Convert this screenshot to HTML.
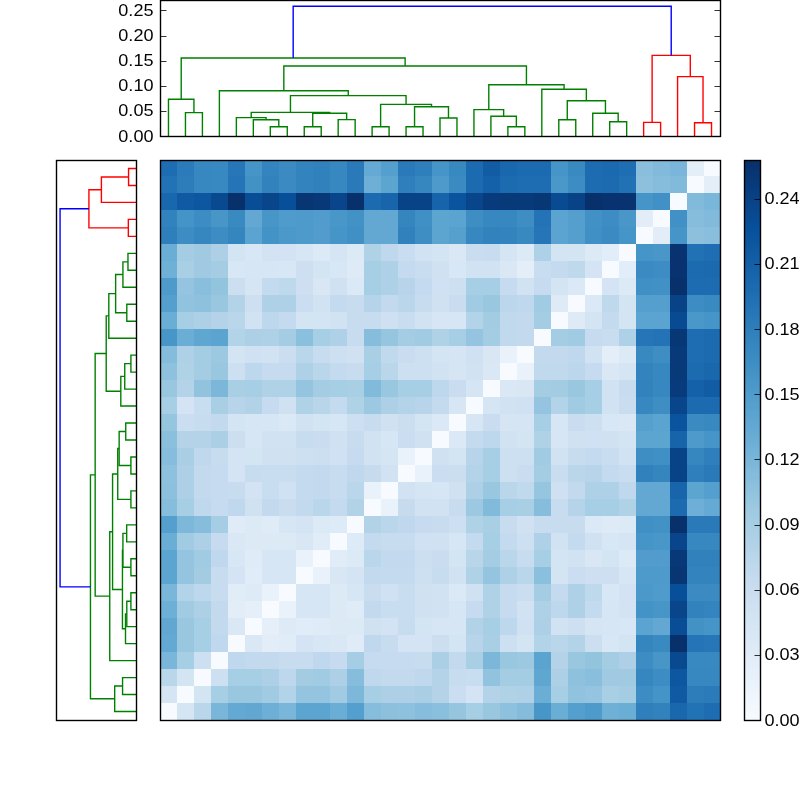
<!DOCTYPE html><html><head><meta charset="utf-8"><title>cluster heatmap</title>
<style>html,body{margin:0;padding:0;background:#fff;}body{width:800px;height:800px;overflow:hidden;font-family:"Liberation Sans",sans-serif;}svg{display:block}text{font-family:"Liberation Sans",sans-serif;fill:#000}</style></head><body>
<svg width="800" height="800" viewBox="0 0 800 800">
<rect x="0" y="0" width="800" height="800" fill="#ffffff"/>
<g shape-rendering="crispEdges">
<rect x="160" y="703" width="17" height="17" fill="#f7fbff"/>
<rect x="177" y="703" width="17" height="17" fill="#d5e5f4"/>
<rect x="194" y="703" width="17" height="17" fill="#bad6eb"/>
<rect x="211" y="703" width="17" height="17" fill="#7ab6d9"/>
<rect x="228" y="703" width="17" height="17" fill="#64a9d3"/>
<rect x="245" y="703" width="17" height="17" fill="#61a7d2"/>
<rect x="262" y="703" width="17" height="17" fill="#6dafd7"/>
<rect x="279" y="703" width="17" height="17" fill="#7ab6d9"/>
<rect x="296" y="703" width="34" height="17" fill="#5da5d1"/>
<rect x="330" y="703" width="17" height="17" fill="#6aaed6"/>
<rect x="347" y="703" width="17" height="17" fill="#549fcd"/>
<rect x="364" y="703" width="17" height="17" fill="#87bddc"/>
<rect x="381" y="703" width="17" height="17" fill="#8cc0dd"/>
<rect x="398" y="703" width="17" height="17" fill="#8dc1dd"/>
<rect x="415" y="703" width="17" height="17" fill="#87bddc"/>
<rect x="432" y="703" width="17" height="17" fill="#8abfdd"/>
<rect x="449" y="703" width="17" height="17" fill="#95c5df"/>
<rect x="466" y="703" width="17" height="17" fill="#a6cee4"/>
<rect x="483" y="703" width="17" height="17" fill="#99c7e0"/>
<rect x="500" y="703" width="17" height="17" fill="#8dc1dd"/>
<rect x="517" y="703" width="17" height="17" fill="#85bcdc"/>
<rect x="534" y="703" width="17" height="17" fill="#4896c8"/>
<rect x="551" y="703" width="17" height="17" fill="#6aaed6"/>
<rect x="568" y="703" width="17" height="17" fill="#549fcd"/>
<rect x="585" y="703" width="17" height="17" fill="#4e9acb"/>
<rect x="602" y="703" width="17" height="17" fill="#6fb0d7"/>
<rect x="619" y="703" width="17" height="17" fill="#6aaed6"/>
<rect x="636" y="703" width="17" height="17" fill="#2f7fbc"/>
<rect x="653" y="703" width="17" height="17" fill="#3282be"/>
<rect x="670" y="703" width="17" height="17" fill="#1967ad"/>
<rect x="687" y="703" width="17" height="17" fill="#2272b6"/>
<rect x="704" y="703" width="17" height="17" fill="#1e6db2"/>
<rect x="160" y="686" width="17" height="17" fill="#d5e5f4"/>
<rect x="177" y="686" width="17" height="17" fill="#f7fbff"/>
<rect x="194" y="686" width="17" height="17" fill="#d3e4f3"/>
<rect x="211" y="686" width="17" height="17" fill="#a6cee4"/>
<rect x="228" y="686" width="34" height="17" fill="#99c7e0"/>
<rect x="262" y="686" width="17" height="17" fill="#a0cbe2"/>
<rect x="279" y="686" width="17" height="17" fill="#b3d3e8"/>
<rect x="296" y="686" width="34" height="17" fill="#94c4df"/>
<rect x="330" y="686" width="17" height="17" fill="#a0cbe2"/>
<rect x="347" y="686" width="17" height="17" fill="#7db8da"/>
<rect x="364" y="686" width="17" height="17" fill="#a6cee4"/>
<rect x="381" y="686" width="34" height="17" fill="#add0e6"/>
<rect x="415" y="686" width="17" height="17" fill="#aacfe5"/>
<rect x="432" y="686" width="17" height="17" fill="#b4d3e9"/>
<rect x="449" y="686" width="17" height="17" fill="#cbdef1"/>
<rect x="466" y="686" width="17" height="17" fill="#d4e4f4"/>
<rect x="483" y="686" width="17" height="17" fill="#b4d3e9"/>
<rect x="500" y="686" width="17" height="17" fill="#b0d2e7"/>
<rect x="517" y="686" width="17" height="17" fill="#afd1e7"/>
<rect x="534" y="686" width="17" height="17" fill="#6aaed6"/>
<rect x="551" y="686" width="17" height="17" fill="#a6cee4"/>
<rect x="568" y="686" width="17" height="17" fill="#91c3de"/>
<rect x="585" y="686" width="17" height="17" fill="#94c4df"/>
<rect x="602" y="686" width="17" height="17" fill="#a9cfe5"/>
<rect x="619" y="686" width="17" height="17" fill="#a4cce3"/>
<rect x="636" y="686" width="17" height="17" fill="#3d8dc4"/>
<rect x="653" y="686" width="17" height="17" fill="#4594c7"/>
<rect x="670" y="686" width="17" height="17" fill="#0f5aa3"/>
<rect x="687" y="686" width="17" height="17" fill="#2d7dbb"/>
<rect x="704" y="686" width="17" height="17" fill="#2b7bba"/>
<rect x="160" y="669" width="17" height="17" fill="#bad6eb"/>
<rect x="177" y="669" width="17" height="17" fill="#d3e4f3"/>
<rect x="194" y="669" width="17" height="17" fill="#f7fbff"/>
<rect x="211" y="669" width="17" height="17" fill="#cde0f1"/>
<rect x="228" y="669" width="34" height="17" fill="#a6cee4"/>
<rect x="262" y="669" width="17" height="17" fill="#add0e6"/>
<rect x="279" y="669" width="17" height="17" fill="#bdd7ec"/>
<rect x="296" y="669" width="17" height="17" fill="#a3cce3"/>
<rect x="313" y="669" width="17" height="17" fill="#a0cbe2"/>
<rect x="330" y="669" width="17" height="17" fill="#add0e6"/>
<rect x="347" y="669" width="17" height="17" fill="#87bddc"/>
<rect x="364" y="669" width="17" height="17" fill="#bfd8ed"/>
<rect x="381" y="669" width="34" height="17" fill="#c2d9ee"/>
<rect x="415" y="669" width="17" height="17" fill="#bfd8ed"/>
<rect x="432" y="669" width="17" height="17" fill="#b4d3e9"/>
<rect x="449" y="669" width="17" height="17" fill="#c8dcf0"/>
<rect x="466" y="669" width="17" height="17" fill="#c9ddf0"/>
<rect x="483" y="669" width="17" height="17" fill="#91c3de"/>
<rect x="500" y="669" width="34" height="17" fill="#a4cce3"/>
<rect x="534" y="669" width="17" height="17" fill="#5fa6d1"/>
<rect x="551" y="669" width="17" height="17" fill="#add0e6"/>
<rect x="568" y="669" width="17" height="17" fill="#8dc1dd"/>
<rect x="585" y="669" width="17" height="17" fill="#89bedc"/>
<rect x="602" y="669" width="34" height="17" fill="#9fcae1"/>
<rect x="636" y="669" width="17" height="17" fill="#3686c0"/>
<rect x="653" y="669" width="17" height="17" fill="#3d8dc4"/>
<rect x="670" y="669" width="17" height="17" fill="#0d57a1"/>
<rect x="687" y="669" width="34" height="17" fill="#3787c0"/>
<rect x="160" y="652" width="17" height="17" fill="#7ab6d9"/>
<rect x="177" y="652" width="17" height="17" fill="#a6cee4"/>
<rect x="194" y="652" width="17" height="17" fill="#cde0f1"/>
<rect x="211" y="652" width="17" height="17" fill="#f7fbff"/>
<rect x="228" y="652" width="17" height="17" fill="#bfd8ed"/>
<rect x="245" y="652" width="34" height="17" fill="#c2d9ee"/>
<rect x="279" y="652" width="34" height="17" fill="#c8dcf0"/>
<rect x="313" y="652" width="17" height="17" fill="#bfd8ed"/>
<rect x="330" y="652" width="17" height="17" fill="#c6dbef"/>
<rect x="347" y="652" width="17" height="17" fill="#a5cde3"/>
<rect x="364" y="652" width="51" height="17" fill="#c6dbef"/>
<rect x="415" y="652" width="17" height="17" fill="#c8dcf0"/>
<rect x="432" y="652" width="17" height="17" fill="#abd0e6"/>
<rect x="449" y="652" width="17" height="17" fill="#c2d9ee"/>
<rect x="466" y="652" width="17" height="17" fill="#a9cfe5"/>
<rect x="483" y="652" width="17" height="17" fill="#7cb7da"/>
<rect x="500" y="652" width="17" height="17" fill="#99c7e0"/>
<rect x="517" y="652" width="17" height="17" fill="#9cc9e1"/>
<rect x="534" y="652" width="17" height="17" fill="#5ca4d0"/>
<rect x="551" y="652" width="17" height="17" fill="#b4d3e9"/>
<rect x="568" y="652" width="17" height="17" fill="#99c7e0"/>
<rect x="585" y="652" width="17" height="17" fill="#92c4de"/>
<rect x="602" y="652" width="17" height="17" fill="#a4cce3"/>
<rect x="619" y="652" width="17" height="17" fill="#add0e6"/>
<rect x="636" y="652" width="17" height="17" fill="#3d8dc4"/>
<rect x="653" y="652" width="17" height="17" fill="#4896c8"/>
<rect x="670" y="652" width="17" height="17" fill="#084990"/>
<rect x="687" y="652" width="34" height="17" fill="#3888c1"/>
<rect x="160" y="635" width="17" height="17" fill="#64a9d3"/>
<rect x="177" y="635" width="17" height="17" fill="#99c7e0"/>
<rect x="194" y="635" width="17" height="17" fill="#a6cee4"/>
<rect x="211" y="635" width="17" height="17" fill="#bfd8ed"/>
<rect x="228" y="635" width="17" height="17" fill="#f7fbff"/>
<rect x="245" y="635" width="17" height="17" fill="#dae8f6"/>
<rect x="262" y="635" width="17" height="17" fill="#e2edf8"/>
<rect x="279" y="635" width="17" height="17" fill="#e0ecf8"/>
<rect x="296" y="635" width="17" height="17" fill="#d4e4f4"/>
<rect x="313" y="635" width="17" height="17" fill="#d8e7f5"/>
<rect x="330" y="635" width="17" height="17" fill="#dae8f6"/>
<rect x="347" y="635" width="17" height="17" fill="#dfebf7"/>
<rect x="364" y="635" width="17" height="17" fill="#bfd8ed"/>
<rect x="381" y="635" width="17" height="17" fill="#c7dcef"/>
<rect x="398" y="635" width="34" height="17" fill="#d4e4f4"/>
<rect x="432" y="635" width="17" height="17" fill="#ccdff1"/>
<rect x="449" y="635" width="17" height="17" fill="#d3e4f3"/>
<rect x="466" y="635" width="17" height="17" fill="#b7d4ea"/>
<rect x="483" y="635" width="17" height="17" fill="#a9cfe5"/>
<rect x="500" y="635" width="17" height="17" fill="#cde0f1"/>
<rect x="517" y="635" width="17" height="17" fill="#d3e4f3"/>
<rect x="534" y="635" width="17" height="17" fill="#b3d3e8"/>
<rect x="551" y="635" width="17" height="17" fill="#b9d6ea"/>
<rect x="568" y="635" width="17" height="17" fill="#b3d3e8"/>
<rect x="585" y="635" width="17" height="17" fill="#ccdff1"/>
<rect x="602" y="635" width="17" height="17" fill="#d8e7f5"/>
<rect x="619" y="635" width="17" height="17" fill="#d3e4f3"/>
<rect x="636" y="635" width="17" height="17" fill="#3585bf"/>
<rect x="653" y="635" width="17" height="17" fill="#3a8ac2"/>
<rect x="670" y="635" width="17" height="17" fill="#08306b"/>
<rect x="687" y="635" width="17" height="17" fill="#2474b7"/>
<rect x="704" y="635" width="17" height="17" fill="#2676b8"/>
<rect x="160" y="618" width="17" height="17" fill="#61a7d2"/>
<rect x="177" y="618" width="17" height="17" fill="#99c7e0"/>
<rect x="194" y="618" width="17" height="17" fill="#a6cee4"/>
<rect x="211" y="618" width="17" height="17" fill="#c2d9ee"/>
<rect x="228" y="618" width="17" height="17" fill="#dae8f6"/>
<rect x="245" y="618" width="17" height="17" fill="#f7fbff"/>
<rect x="262" y="618" width="17" height="17" fill="#e4eff9"/>
<rect x="279" y="618" width="17" height="17" fill="#deebf7"/>
<rect x="296" y="618" width="17" height="17" fill="#e0ecf8"/>
<rect x="313" y="618" width="17" height="17" fill="#dfebf7"/>
<rect x="330" y="618" width="34" height="17" fill="#dceaf6"/>
<rect x="364" y="618" width="17" height="17" fill="#d0e1f2"/>
<rect x="381" y="618" width="17" height="17" fill="#d3e3f3"/>
<rect x="398" y="618" width="17" height="17" fill="#c7dcef"/>
<rect x="415" y="618" width="17" height="17" fill="#d3e4f3"/>
<rect x="432" y="618" width="34" height="17" fill="#d6e6f4"/>
<rect x="466" y="618" width="17" height="17" fill="#b2d2e8"/>
<rect x="483" y="618" width="17" height="17" fill="#a6cee4"/>
<rect x="500" y="618" width="17" height="17" fill="#bdd7ec"/>
<rect x="517" y="618" width="17" height="17" fill="#cfe1f2"/>
<rect x="534" y="618" width="17" height="17" fill="#add0e6"/>
<rect x="551" y="618" width="17" height="17" fill="#d1e2f3"/>
<rect x="568" y="618" width="17" height="17" fill="#cddff1"/>
<rect x="585" y="618" width="17" height="17" fill="#d5e5f4"/>
<rect x="602" y="618" width="17" height="17" fill="#d7e6f5"/>
<rect x="619" y="618" width="17" height="17" fill="#d8e7f5"/>
<rect x="636" y="618" width="17" height="17" fill="#5ba3d0"/>
<rect x="653" y="618" width="17" height="17" fill="#63a8d3"/>
<rect x="670" y="618" width="17" height="17" fill="#084d96"/>
<rect x="687" y="618" width="17" height="17" fill="#4292c6"/>
<rect x="704" y="618" width="17" height="17" fill="#4695c8"/>
<rect x="160" y="601" width="17" height="17" fill="#6dafd7"/>
<rect x="177" y="601" width="17" height="17" fill="#a0cbe2"/>
<rect x="194" y="601" width="17" height="17" fill="#add0e6"/>
<rect x="211" y="601" width="17" height="17" fill="#c2d9ee"/>
<rect x="228" y="601" width="17" height="17" fill="#e2edf8"/>
<rect x="245" y="601" width="17" height="17" fill="#e4eff9"/>
<rect x="262" y="601" width="17" height="17" fill="#f7fbff"/>
<rect x="279" y="601" width="17" height="17" fill="#e9f2fa"/>
<rect x="296" y="601" width="34" height="17" fill="#d6e6f4"/>
<rect x="330" y="601" width="17" height="17" fill="#dceaf6"/>
<rect x="347" y="601" width="17" height="17" fill="#dfebf7"/>
<rect x="364" y="601" width="17" height="17" fill="#c2d9ee"/>
<rect x="381" y="601" width="34" height="17" fill="#c9ddf0"/>
<rect x="415" y="601" width="17" height="17" fill="#d0e1f2"/>
<rect x="432" y="601" width="17" height="17" fill="#d1e2f3"/>
<rect x="449" y="601" width="17" height="17" fill="#d6e6f4"/>
<rect x="466" y="601" width="17" height="17" fill="#c6dbef"/>
<rect x="483" y="601" width="17" height="17" fill="#b0d2e7"/>
<rect x="500" y="601" width="17" height="17" fill="#c6dbef"/>
<rect x="517" y="601" width="17" height="17" fill="#d1e2f3"/>
<rect x="534" y="601" width="17" height="17" fill="#aed1e7"/>
<rect x="551" y="601" width="17" height="17" fill="#bdd7ec"/>
<rect x="568" y="601" width="17" height="17" fill="#afd1e7"/>
<rect x="585" y="601" width="17" height="17" fill="#c4daee"/>
<rect x="602" y="601" width="17" height="17" fill="#d7e6f5"/>
<rect x="619" y="601" width="17" height="17" fill="#d3e3f3"/>
<rect x="636" y="601" width="17" height="17" fill="#4493c7"/>
<rect x="653" y="601" width="17" height="17" fill="#4896c8"/>
<rect x="670" y="601" width="17" height="17" fill="#08458a"/>
<rect x="687" y="601" width="17" height="17" fill="#3282be"/>
<rect x="704" y="601" width="17" height="17" fill="#3484bf"/>
<rect x="160" y="584" width="17" height="17" fill="#7ab6d9"/>
<rect x="177" y="584" width="17" height="17" fill="#b3d3e8"/>
<rect x="194" y="584" width="17" height="17" fill="#bdd7ec"/>
<rect x="211" y="584" width="17" height="17" fill="#c8dcf0"/>
<rect x="228" y="584" width="17" height="17" fill="#e0ecf8"/>
<rect x="245" y="584" width="17" height="17" fill="#deebf7"/>
<rect x="262" y="584" width="17" height="17" fill="#e9f2fa"/>
<rect x="279" y="584" width="17" height="17" fill="#f7fbff"/>
<rect x="296" y="584" width="34" height="17" fill="#d6e6f4"/>
<rect x="330" y="584" width="17" height="17" fill="#dceaf6"/>
<rect x="347" y="584" width="17" height="17" fill="#d6e6f4"/>
<rect x="364" y="584" width="17" height="17" fill="#caddf0"/>
<rect x="381" y="584" width="17" height="17" fill="#cfe1f2"/>
<rect x="398" y="584" width="17" height="17" fill="#c9ddf0"/>
<rect x="415" y="584" width="17" height="17" fill="#d0e1f2"/>
<rect x="432" y="584" width="17" height="17" fill="#d1e2f3"/>
<rect x="449" y="584" width="17" height="17" fill="#dbe9f6"/>
<rect x="466" y="584" width="17" height="17" fill="#d0e1f2"/>
<rect x="483" y="584" width="17" height="17" fill="#b0d2e7"/>
<rect x="500" y="584" width="17" height="17" fill="#c6dbef"/>
<rect x="517" y="584" width="17" height="17" fill="#cbdef1"/>
<rect x="534" y="584" width="17" height="17" fill="#a4cce3"/>
<rect x="551" y="584" width="17" height="17" fill="#c4daee"/>
<rect x="568" y="584" width="17" height="17" fill="#afd1e7"/>
<rect x="585" y="584" width="17" height="17" fill="#bed8ec"/>
<rect x="602" y="584" width="17" height="17" fill="#d8e7f5"/>
<rect x="619" y="584" width="17" height="17" fill="#d3e3f3"/>
<rect x="636" y="584" width="17" height="17" fill="#4b98ca"/>
<rect x="653" y="584" width="17" height="17" fill="#4f9bcb"/>
<rect x="670" y="584" width="17" height="17" fill="#084f99"/>
<rect x="687" y="584" width="34" height="17" fill="#3b8bc2"/>
<rect x="160" y="567" width="17" height="17" fill="#5da5d1"/>
<rect x="177" y="567" width="17" height="17" fill="#94c4df"/>
<rect x="194" y="567" width="17" height="17" fill="#a3cce3"/>
<rect x="211" y="567" width="17" height="17" fill="#c8dcf0"/>
<rect x="228" y="567" width="17" height="17" fill="#d4e4f4"/>
<rect x="245" y="567" width="17" height="17" fill="#e0ecf8"/>
<rect x="262" y="567" width="34" height="17" fill="#d6e6f4"/>
<rect x="296" y="567" width="17" height="17" fill="#f7fbff"/>
<rect x="313" y="567" width="17" height="17" fill="#e9f2fa"/>
<rect x="330" y="567" width="17" height="17" fill="#d9e7f5"/>
<rect x="347" y="567" width="17" height="17" fill="#d4e4f4"/>
<rect x="364" y="567" width="17" height="17" fill="#c2d9ee"/>
<rect x="381" y="567" width="34" height="17" fill="#c4daee"/>
<rect x="415" y="567" width="17" height="17" fill="#cde0f1"/>
<rect x="432" y="567" width="17" height="17" fill="#c7dcef"/>
<rect x="449" y="567" width="17" height="17" fill="#d1e2f3"/>
<rect x="466" y="567" width="17" height="17" fill="#b0d2e7"/>
<rect x="483" y="567" width="17" height="17" fill="#94c4df"/>
<rect x="500" y="567" width="17" height="17" fill="#afd1e7"/>
<rect x="517" y="567" width="17" height="17" fill="#bad6eb"/>
<rect x="534" y="567" width="17" height="17" fill="#8abfdd"/>
<rect x="551" y="567" width="17" height="17" fill="#d3e4f3"/>
<rect x="568" y="567" width="17" height="17" fill="#cbdef1"/>
<rect x="585" y="567" width="34" height="17" fill="#cddff1"/>
<rect x="619" y="567" width="17" height="17" fill="#d6e6f4"/>
<rect x="636" y="567" width="34" height="17" fill="#4e9acb"/>
<rect x="670" y="567" width="17" height="17" fill="#083674"/>
<rect x="687" y="567" width="34" height="17" fill="#3383be"/>
<rect x="160" y="550" width="17" height="17" fill="#5da5d1"/>
<rect x="177" y="550" width="17" height="17" fill="#94c4df"/>
<rect x="194" y="550" width="17" height="17" fill="#a0cbe2"/>
<rect x="211" y="550" width="17" height="17" fill="#bfd8ed"/>
<rect x="228" y="550" width="17" height="17" fill="#d8e7f5"/>
<rect x="245" y="550" width="17" height="17" fill="#dfebf7"/>
<rect x="262" y="550" width="34" height="17" fill="#d6e6f4"/>
<rect x="296" y="550" width="17" height="17" fill="#e9f2fa"/>
<rect x="313" y="550" width="17" height="17" fill="#f7fbff"/>
<rect x="330" y="550" width="17" height="17" fill="#e0ecf8"/>
<rect x="347" y="550" width="17" height="17" fill="#dceaf6"/>
<rect x="364" y="550" width="17" height="17" fill="#b9d6ea"/>
<rect x="381" y="550" width="34" height="17" fill="#c2d9ee"/>
<rect x="415" y="550" width="17" height="17" fill="#ccdff1"/>
<rect x="432" y="550" width="17" height="17" fill="#caddf0"/>
<rect x="449" y="550" width="17" height="17" fill="#d3e4f3"/>
<rect x="466" y="550" width="17" height="17" fill="#b8d5ea"/>
<rect x="483" y="550" width="17" height="17" fill="#a4cce3"/>
<rect x="500" y="550" width="17" height="17" fill="#bad6eb"/>
<rect x="517" y="550" width="17" height="17" fill="#c7dcef"/>
<rect x="534" y="550" width="17" height="17" fill="#a6cee4"/>
<rect x="551" y="550" width="17" height="17" fill="#d3e4f3"/>
<rect x="568" y="550" width="17" height="17" fill="#d1e2f3"/>
<rect x="585" y="550" width="17" height="17" fill="#d9e7f5"/>
<rect x="602" y="550" width="17" height="17" fill="#d3e4f3"/>
<rect x="619" y="550" width="17" height="17" fill="#dce9f6"/>
<rect x="636" y="550" width="34" height="17" fill="#519ccc"/>
<rect x="670" y="550" width="17" height="17" fill="#083877"/>
<rect x="687" y="550" width="34" height="17" fill="#3181bd"/>
<rect x="160" y="533" width="17" height="17" fill="#6aaed6"/>
<rect x="177" y="533" width="17" height="17" fill="#a0cbe2"/>
<rect x="194" y="533" width="17" height="17" fill="#add0e6"/>
<rect x="211" y="533" width="17" height="17" fill="#c6dbef"/>
<rect x="228" y="533" width="17" height="17" fill="#dae8f6"/>
<rect x="245" y="533" width="51" height="17" fill="#dceaf6"/>
<rect x="296" y="533" width="17" height="17" fill="#d9e7f5"/>
<rect x="313" y="533" width="17" height="17" fill="#e0ecf8"/>
<rect x="330" y="533" width="17" height="17" fill="#f7fbff"/>
<rect x="347" y="533" width="17" height="17" fill="#ddeaf7"/>
<rect x="364" y="533" width="17" height="17" fill="#c4daee"/>
<rect x="381" y="533" width="34" height="17" fill="#c7dcef"/>
<rect x="415" y="533" width="17" height="17" fill="#cfe1f2"/>
<rect x="432" y="533" width="17" height="17" fill="#d0e1f2"/>
<rect x="449" y="533" width="17" height="17" fill="#d6e6f4"/>
<rect x="466" y="533" width="17" height="17" fill="#c4daee"/>
<rect x="483" y="533" width="17" height="17" fill="#a6cee4"/>
<rect x="500" y="533" width="17" height="17" fill="#c4daee"/>
<rect x="517" y="533" width="17" height="17" fill="#cde0f1"/>
<rect x="534" y="533" width="17" height="17" fill="#afd1e7"/>
<rect x="551" y="533" width="17" height="17" fill="#d1e2f3"/>
<rect x="568" y="533" width="17" height="17" fill="#c4daee"/>
<rect x="585" y="533" width="17" height="17" fill="#d0e1f2"/>
<rect x="602" y="533" width="17" height="17" fill="#d8e7f5"/>
<rect x="619" y="533" width="17" height="17" fill="#d5e5f4"/>
<rect x="636" y="533" width="17" height="17" fill="#4695c8"/>
<rect x="653" y="533" width="17" height="17" fill="#4997c9"/>
<rect x="670" y="533" width="17" height="17" fill="#08458a"/>
<rect x="687" y="533" width="34" height="17" fill="#3787c0"/>
<rect x="160" y="516" width="17" height="17" fill="#549fcd"/>
<rect x="177" y="516" width="17" height="17" fill="#7db8da"/>
<rect x="194" y="516" width="17" height="17" fill="#87bddc"/>
<rect x="211" y="516" width="17" height="17" fill="#a5cde3"/>
<rect x="228" y="516" width="17" height="17" fill="#dfebf7"/>
<rect x="245" y="516" width="17" height="17" fill="#dceaf6"/>
<rect x="262" y="516" width="17" height="17" fill="#dfebf7"/>
<rect x="279" y="516" width="17" height="17" fill="#d6e6f4"/>
<rect x="296" y="516" width="17" height="17" fill="#d4e4f4"/>
<rect x="313" y="516" width="17" height="17" fill="#dceaf6"/>
<rect x="330" y="516" width="17" height="17" fill="#ddeaf7"/>
<rect x="347" y="516" width="17" height="17" fill="#f7fbff"/>
<rect x="364" y="516" width="17" height="17" fill="#b2d2e8"/>
<rect x="381" y="516" width="17" height="17" fill="#b9d6ea"/>
<rect x="398" y="516" width="17" height="17" fill="#bfd8ed"/>
<rect x="415" y="516" width="17" height="17" fill="#c6dbef"/>
<rect x="432" y="516" width="17" height="17" fill="#c8dcf0"/>
<rect x="449" y="516" width="17" height="17" fill="#cde0f1"/>
<rect x="466" y="516" width="17" height="17" fill="#b0d2e7"/>
<rect x="483" y="516" width="17" height="17" fill="#a9cfe5"/>
<rect x="500" y="516" width="17" height="17" fill="#c7dcef"/>
<rect x="517" y="516" width="17" height="17" fill="#d0e1f2"/>
<rect x="534" y="516" width="34" height="17" fill="#c8dcf0"/>
<rect x="568" y="516" width="17" height="17" fill="#c7dcef"/>
<rect x="585" y="516" width="17" height="17" fill="#dbe9f6"/>
<rect x="602" y="516" width="17" height="17" fill="#deebf7"/>
<rect x="619" y="516" width="17" height="17" fill="#dceaf6"/>
<rect x="636" y="516" width="17" height="17" fill="#4090c5"/>
<rect x="653" y="516" width="17" height="17" fill="#4292c6"/>
<rect x="670" y="516" width="17" height="17" fill="#08306b"/>
<rect x="687" y="516" width="34" height="17" fill="#2a7ab9"/>
<rect x="160" y="499" width="17" height="17" fill="#87bddc"/>
<rect x="177" y="499" width="17" height="17" fill="#a6cee4"/>
<rect x="194" y="499" width="17" height="17" fill="#bfd8ed"/>
<rect x="211" y="499" width="17" height="17" fill="#c6dbef"/>
<rect x="228" y="499" width="17" height="17" fill="#bfd8ed"/>
<rect x="245" y="499" width="17" height="17" fill="#d0e1f2"/>
<rect x="262" y="499" width="17" height="17" fill="#c2d9ee"/>
<rect x="279" y="499" width="17" height="17" fill="#caddf0"/>
<rect x="296" y="499" width="17" height="17" fill="#c2d9ee"/>
<rect x="313" y="499" width="17" height="17" fill="#b9d6ea"/>
<rect x="330" y="499" width="17" height="17" fill="#c4daee"/>
<rect x="347" y="499" width="17" height="17" fill="#b2d2e8"/>
<rect x="364" y="499" width="17" height="17" fill="#f7fbff"/>
<rect x="381" y="499" width="17" height="17" fill="#e9f2fa"/>
<rect x="398" y="499" width="17" height="17" fill="#c7dbef"/>
<rect x="415" y="499" width="34" height="17" fill="#d1e2f3"/>
<rect x="449" y="499" width="17" height="17" fill="#c7dcef"/>
<rect x="466" y="499" width="17" height="17" fill="#9cc9e1"/>
<rect x="483" y="499" width="17" height="17" fill="#81badb"/>
<rect x="500" y="499" width="17" height="17" fill="#a6cee4"/>
<rect x="517" y="499" width="17" height="17" fill="#a9cfe5"/>
<rect x="534" y="499" width="17" height="17" fill="#87bddc"/>
<rect x="551" y="499" width="17" height="17" fill="#c7dcef"/>
<rect x="568" y="499" width="17" height="17" fill="#b5d4e9"/>
<rect x="585" y="499" width="34" height="17" fill="#a6cee4"/>
<rect x="619" y="499" width="17" height="17" fill="#b0d2e7"/>
<rect x="636" y="499" width="34" height="17" fill="#63a8d3"/>
<rect x="670" y="499" width="17" height="17" fill="#1c6ab0"/>
<rect x="687" y="499" width="17" height="17" fill="#6dafd7"/>
<rect x="704" y="499" width="17" height="17" fill="#65aad4"/>
<rect x="160" y="482" width="17" height="17" fill="#8cc0dd"/>
<rect x="177" y="482" width="17" height="17" fill="#add0e6"/>
<rect x="194" y="482" width="17" height="17" fill="#c2d9ee"/>
<rect x="211" y="482" width="17" height="17" fill="#c6dbef"/>
<rect x="228" y="482" width="17" height="17" fill="#c7dcef"/>
<rect x="245" y="482" width="17" height="17" fill="#d3e3f3"/>
<rect x="262" y="482" width="17" height="17" fill="#c9ddf0"/>
<rect x="279" y="482" width="17" height="17" fill="#cfe1f2"/>
<rect x="296" y="482" width="17" height="17" fill="#c4daee"/>
<rect x="313" y="482" width="17" height="17" fill="#c2d9ee"/>
<rect x="330" y="482" width="17" height="17" fill="#c7dcef"/>
<rect x="347" y="482" width="17" height="17" fill="#b9d6ea"/>
<rect x="364" y="482" width="17" height="17" fill="#e9f2fa"/>
<rect x="381" y="482" width="17" height="17" fill="#f7fbff"/>
<rect x="398" y="482" width="17" height="17" fill="#d1e2f3"/>
<rect x="415" y="482" width="17" height="17" fill="#d5e5f4"/>
<rect x="432" y="482" width="17" height="17" fill="#d6e6f4"/>
<rect x="449" y="482" width="17" height="17" fill="#d0e1f2"/>
<rect x="466" y="482" width="17" height="17" fill="#add0e6"/>
<rect x="483" y="482" width="17" height="17" fill="#99c7e0"/>
<rect x="500" y="482" width="17" height="17" fill="#b9d6ea"/>
<rect x="517" y="482" width="17" height="17" fill="#c1d9ed"/>
<rect x="534" y="482" width="17" height="17" fill="#95c5df"/>
<rect x="551" y="482" width="17" height="17" fill="#cee0f2"/>
<rect x="568" y="482" width="17" height="17" fill="#c2d9ee"/>
<rect x="585" y="482" width="34" height="17" fill="#afd1e7"/>
<rect x="619" y="482" width="17" height="17" fill="#bfd8ed"/>
<rect x="636" y="482" width="34" height="17" fill="#63a8d3"/>
<rect x="670" y="482" width="17" height="17" fill="#1865ac"/>
<rect x="687" y="482" width="17" height="17" fill="#5da5d1"/>
<rect x="704" y="482" width="17" height="17" fill="#549fcd"/>
<rect x="160" y="465" width="17" height="17" fill="#8dc1dd"/>
<rect x="177" y="465" width="17" height="17" fill="#add0e6"/>
<rect x="194" y="465" width="17" height="17" fill="#c2d9ee"/>
<rect x="211" y="465" width="17" height="17" fill="#c6dbef"/>
<rect x="228" y="465" width="17" height="17" fill="#d4e4f4"/>
<rect x="245" y="465" width="17" height="17" fill="#c7dcef"/>
<rect x="262" y="465" width="34" height="17" fill="#c9ddf0"/>
<rect x="296" y="465" width="17" height="17" fill="#c4daee"/>
<rect x="313" y="465" width="17" height="17" fill="#c2d9ee"/>
<rect x="330" y="465" width="17" height="17" fill="#c7dcef"/>
<rect x="347" y="465" width="17" height="17" fill="#bfd8ed"/>
<rect x="364" y="465" width="17" height="17" fill="#c7dbef"/>
<rect x="381" y="465" width="17" height="17" fill="#d1e2f3"/>
<rect x="398" y="465" width="17" height="17" fill="#f7fbff"/>
<rect x="415" y="465" width="17" height="17" fill="#e9f2fa"/>
<rect x="432" y="465" width="17" height="17" fill="#cbdef1"/>
<rect x="449" y="465" width="17" height="17" fill="#cadef0"/>
<rect x="466" y="465" width="17" height="17" fill="#b3d3e8"/>
<rect x="483" y="465" width="17" height="17" fill="#a6cee4"/>
<rect x="500" y="465" width="17" height="17" fill="#cde0f1"/>
<rect x="517" y="465" width="17" height="17" fill="#caddf0"/>
<rect x="534" y="465" width="17" height="17" fill="#a4cce3"/>
<rect x="551" y="465" width="17" height="17" fill="#c9ddf0"/>
<rect x="568" y="465" width="17" height="17" fill="#b9d6ea"/>
<rect x="585" y="465" width="17" height="17" fill="#b7d4ea"/>
<rect x="602" y="465" width="17" height="17" fill="#c4daee"/>
<rect x="619" y="465" width="17" height="17" fill="#c9ddf0"/>
<rect x="636" y="465" width="17" height="17" fill="#3181bd"/>
<rect x="653" y="465" width="17" height="17" fill="#3585bf"/>
<rect x="670" y="465" width="17" height="17" fill="#084387"/>
<rect x="687" y="465" width="17" height="17" fill="#2f7fbc"/>
<rect x="704" y="465" width="17" height="17" fill="#2a7ab9"/>
<rect x="160" y="448" width="17" height="17" fill="#87bddc"/>
<rect x="177" y="448" width="17" height="17" fill="#aacfe5"/>
<rect x="194" y="448" width="17" height="17" fill="#bfd8ed"/>
<rect x="211" y="448" width="17" height="17" fill="#c8dcf0"/>
<rect x="228" y="448" width="17" height="17" fill="#d4e4f4"/>
<rect x="245" y="448" width="17" height="17" fill="#d3e4f3"/>
<rect x="262" y="448" width="34" height="17" fill="#d0e1f2"/>
<rect x="296" y="448" width="17" height="17" fill="#cde0f1"/>
<rect x="313" y="448" width="17" height="17" fill="#ccdff1"/>
<rect x="330" y="448" width="17" height="17" fill="#cfe1f2"/>
<rect x="347" y="448" width="17" height="17" fill="#c6dbef"/>
<rect x="364" y="448" width="17" height="17" fill="#d1e2f3"/>
<rect x="381" y="448" width="17" height="17" fill="#d5e5f4"/>
<rect x="398" y="448" width="17" height="17" fill="#e9f2fa"/>
<rect x="415" y="448" width="17" height="17" fill="#f7fbff"/>
<rect x="432" y="448" width="17" height="17" fill="#d0e1f2"/>
<rect x="449" y="448" width="17" height="17" fill="#d3e4f3"/>
<rect x="466" y="448" width="17" height="17" fill="#b7d4ea"/>
<rect x="483" y="448" width="17" height="17" fill="#a6cee4"/>
<rect x="500" y="448" width="34" height="17" fill="#cde0f1"/>
<rect x="534" y="448" width="17" height="17" fill="#a0cbe2"/>
<rect x="551" y="448" width="17" height="17" fill="#d1e2f3"/>
<rect x="568" y="448" width="17" height="17" fill="#c7dcef"/>
<rect x="585" y="448" width="17" height="17" fill="#c4daee"/>
<rect x="602" y="448" width="17" height="17" fill="#c9ddf0"/>
<rect x="619" y="448" width="17" height="17" fill="#d1e2f3"/>
<rect x="636" y="448" width="17" height="17" fill="#3e8ec4"/>
<rect x="653" y="448" width="17" height="17" fill="#4090c5"/>
<rect x="670" y="448" width="17" height="17" fill="#084387"/>
<rect x="687" y="448" width="17" height="17" fill="#3686c0"/>
<rect x="704" y="448" width="17" height="17" fill="#2f7fbc"/>
<rect x="160" y="431" width="17" height="17" fill="#8abfdd"/>
<rect x="177" y="431" width="34" height="17" fill="#b4d3e9"/>
<rect x="211" y="431" width="17" height="17" fill="#abd0e6"/>
<rect x="228" y="431" width="17" height="17" fill="#ccdff1"/>
<rect x="245" y="431" width="17" height="17" fill="#d6e6f4"/>
<rect x="262" y="431" width="34" height="17" fill="#d1e2f3"/>
<rect x="296" y="431" width="17" height="17" fill="#c7dcef"/>
<rect x="313" y="431" width="17" height="17" fill="#caddf0"/>
<rect x="330" y="431" width="17" height="17" fill="#d0e1f2"/>
<rect x="347" y="431" width="17" height="17" fill="#c8dcf0"/>
<rect x="364" y="431" width="17" height="17" fill="#d1e2f3"/>
<rect x="381" y="431" width="17" height="17" fill="#d6e6f4"/>
<rect x="398" y="431" width="17" height="17" fill="#cbdef1"/>
<rect x="415" y="431" width="17" height="17" fill="#d0e1f2"/>
<rect x="432" y="431" width="17" height="17" fill="#f7fbff"/>
<rect x="449" y="431" width="17" height="17" fill="#dbe9f6"/>
<rect x="466" y="431" width="17" height="17" fill="#c4daee"/>
<rect x="483" y="431" width="17" height="17" fill="#bdd7ec"/>
<rect x="500" y="431" width="17" height="17" fill="#d1e2f3"/>
<rect x="517" y="431" width="17" height="17" fill="#d3e4f3"/>
<rect x="534" y="431" width="17" height="17" fill="#b0d2e7"/>
<rect x="551" y="431" width="17" height="17" fill="#d6e6f4"/>
<rect x="568" y="431" width="17" height="17" fill="#d0e1f2"/>
<rect x="585" y="431" width="17" height="17" fill="#cfe1f2"/>
<rect x="602" y="431" width="17" height="17" fill="#d0e1f2"/>
<rect x="619" y="431" width="17" height="17" fill="#d3e4f3"/>
<rect x="636" y="431" width="34" height="17" fill="#5da5d1"/>
<rect x="670" y="431" width="17" height="17" fill="#1764ab"/>
<rect x="687" y="431" width="17" height="17" fill="#4e9acb"/>
<rect x="704" y="431" width="17" height="17" fill="#4695c8"/>
<rect x="160" y="414" width="17" height="17" fill="#95c5df"/>
<rect x="177" y="414" width="17" height="17" fill="#cbdef1"/>
<rect x="194" y="414" width="17" height="17" fill="#c8dcf0"/>
<rect x="211" y="414" width="17" height="17" fill="#c2d9ee"/>
<rect x="228" y="414" width="17" height="17" fill="#d3e4f3"/>
<rect x="245" y="414" width="34" height="17" fill="#d6e6f4"/>
<rect x="279" y="414" width="17" height="17" fill="#dbe9f6"/>
<rect x="296" y="414" width="17" height="17" fill="#d1e2f3"/>
<rect x="313" y="414" width="17" height="17" fill="#d3e4f3"/>
<rect x="330" y="414" width="17" height="17" fill="#d6e6f4"/>
<rect x="347" y="414" width="17" height="17" fill="#cde0f1"/>
<rect x="364" y="414" width="17" height="17" fill="#c7dcef"/>
<rect x="381" y="414" width="17" height="17" fill="#d0e1f2"/>
<rect x="398" y="414" width="17" height="17" fill="#cadef0"/>
<rect x="415" y="414" width="17" height="17" fill="#d3e4f3"/>
<rect x="432" y="414" width="17" height="17" fill="#dbe9f6"/>
<rect x="449" y="414" width="17" height="17" fill="#f7fbff"/>
<rect x="466" y="414" width="17" height="17" fill="#d6e6f4"/>
<rect x="483" y="414" width="17" height="17" fill="#caddf0"/>
<rect x="500" y="414" width="34" height="17" fill="#d5e5f4"/>
<rect x="534" y="414" width="17" height="17" fill="#a6cee4"/>
<rect x="551" y="414" width="17" height="17" fill="#d6e6f4"/>
<rect x="568" y="414" width="17" height="17" fill="#caddf0"/>
<rect x="585" y="414" width="17" height="17" fill="#cde0f1"/>
<rect x="602" y="414" width="17" height="17" fill="#d8e7f5"/>
<rect x="619" y="414" width="17" height="17" fill="#dae8f6"/>
<rect x="636" y="414" width="17" height="17" fill="#56a0ce"/>
<rect x="653" y="414" width="17" height="17" fill="#5ca4d0"/>
<rect x="670" y="414" width="17" height="17" fill="#0a539e"/>
<rect x="687" y="414" width="17" height="17" fill="#3b8bc2"/>
<rect x="704" y="414" width="17" height="17" fill="#3989c1"/>
<rect x="160" y="397" width="17" height="17" fill="#a6cee4"/>
<rect x="177" y="397" width="17" height="17" fill="#d4e4f4"/>
<rect x="194" y="397" width="17" height="17" fill="#c9ddf0"/>
<rect x="211" y="397" width="17" height="17" fill="#a9cfe5"/>
<rect x="228" y="397" width="17" height="17" fill="#b7d4ea"/>
<rect x="245" y="397" width="17" height="17" fill="#b2d2e8"/>
<rect x="262" y="397" width="17" height="17" fill="#c6dbef"/>
<rect x="279" y="397" width="17" height="17" fill="#d0e1f2"/>
<rect x="296" y="397" width="17" height="17" fill="#b0d2e7"/>
<rect x="313" y="397" width="17" height="17" fill="#b8d5ea"/>
<rect x="330" y="397" width="17" height="17" fill="#c4daee"/>
<rect x="347" y="397" width="17" height="17" fill="#b0d2e7"/>
<rect x="364" y="397" width="17" height="17" fill="#9cc9e1"/>
<rect x="381" y="397" width="17" height="17" fill="#add0e6"/>
<rect x="398" y="397" width="17" height="17" fill="#b3d3e8"/>
<rect x="415" y="397" width="17" height="17" fill="#b7d4ea"/>
<rect x="432" y="397" width="17" height="17" fill="#c4daee"/>
<rect x="449" y="397" width="17" height="17" fill="#d6e6f4"/>
<rect x="466" y="397" width="17" height="17" fill="#f7fbff"/>
<rect x="483" y="397" width="17" height="17" fill="#d5e5f4"/>
<rect x="500" y="397" width="17" height="17" fill="#d1e2f3"/>
<rect x="517" y="397" width="17" height="17" fill="#cfe1f2"/>
<rect x="534" y="397" width="17" height="17" fill="#94c4df"/>
<rect x="551" y="397" width="17" height="17" fill="#b3d3e8"/>
<rect x="568" y="397" width="17" height="17" fill="#a0cbe2"/>
<rect x="585" y="397" width="17" height="17" fill="#a6cee4"/>
<rect x="602" y="397" width="17" height="17" fill="#d1e2f3"/>
<rect x="619" y="397" width="17" height="17" fill="#caddf0"/>
<rect x="636" y="397" width="17" height="17" fill="#3787c0"/>
<rect x="653" y="397" width="17" height="17" fill="#3e8ec4"/>
<rect x="670" y="397" width="17" height="17" fill="#08458a"/>
<rect x="687" y="397" width="34" height="17" fill="#1c6ab0"/>
<rect x="160" y="380" width="17" height="17" fill="#99c7e0"/>
<rect x="177" y="380" width="17" height="17" fill="#b4d3e9"/>
<rect x="194" y="380" width="17" height="17" fill="#91c3de"/>
<rect x="211" y="380" width="17" height="17" fill="#7cb7da"/>
<rect x="228" y="380" width="17" height="17" fill="#a9cfe5"/>
<rect x="245" y="380" width="17" height="17" fill="#a6cee4"/>
<rect x="262" y="380" width="34" height="17" fill="#b0d2e7"/>
<rect x="296" y="380" width="17" height="17" fill="#94c4df"/>
<rect x="313" y="380" width="17" height="17" fill="#a4cce3"/>
<rect x="330" y="380" width="17" height="17" fill="#a6cee4"/>
<rect x="347" y="380" width="17" height="17" fill="#a9cfe5"/>
<rect x="364" y="380" width="17" height="17" fill="#81badb"/>
<rect x="381" y="380" width="17" height="17" fill="#99c7e0"/>
<rect x="398" y="380" width="34" height="17" fill="#a6cee4"/>
<rect x="432" y="380" width="17" height="17" fill="#bdd7ec"/>
<rect x="449" y="380" width="17" height="17" fill="#caddf0"/>
<rect x="466" y="380" width="17" height="17" fill="#d5e5f4"/>
<rect x="483" y="380" width="17" height="17" fill="#f7fbff"/>
<rect x="500" y="380" width="17" height="17" fill="#dae8f6"/>
<rect x="517" y="380" width="17" height="17" fill="#d9e7f5"/>
<rect x="534" y="380" width="17" height="17" fill="#a4cce3"/>
<rect x="551" y="380" width="17" height="17" fill="#a3cce3"/>
<rect x="568" y="380" width="17" height="17" fill="#99c7e0"/>
<rect x="585" y="380" width="17" height="17" fill="#a6cee4"/>
<rect x="602" y="380" width="17" height="17" fill="#d1e2f3"/>
<rect x="619" y="380" width="17" height="17" fill="#c7dcef"/>
<rect x="636" y="380" width="17" height="17" fill="#3282be"/>
<rect x="653" y="380" width="17" height="17" fill="#3787c0"/>
<rect x="670" y="380" width="17" height="17" fill="#083b7c"/>
<rect x="687" y="380" width="17" height="17" fill="#1561a9"/>
<rect x="704" y="380" width="17" height="17" fill="#115ca5"/>
<rect x="160" y="363" width="17" height="17" fill="#8dc1dd"/>
<rect x="177" y="363" width="17" height="17" fill="#b0d2e7"/>
<rect x="194" y="363" width="17" height="17" fill="#a4cce3"/>
<rect x="211" y="363" width="17" height="17" fill="#99c7e0"/>
<rect x="228" y="363" width="17" height="17" fill="#cde0f1"/>
<rect x="245" y="363" width="17" height="17" fill="#bdd7ec"/>
<rect x="262" y="363" width="34" height="17" fill="#c6dbef"/>
<rect x="296" y="363" width="17" height="17" fill="#afd1e7"/>
<rect x="313" y="363" width="17" height="17" fill="#bad6eb"/>
<rect x="330" y="363" width="17" height="17" fill="#c4daee"/>
<rect x="347" y="363" width="17" height="17" fill="#c7dcef"/>
<rect x="364" y="363" width="17" height="17" fill="#a6cee4"/>
<rect x="381" y="363" width="17" height="17" fill="#b9d6ea"/>
<rect x="398" y="363" width="34" height="17" fill="#cde0f1"/>
<rect x="432" y="363" width="17" height="17" fill="#d1e2f3"/>
<rect x="449" y="363" width="17" height="17" fill="#d5e5f4"/>
<rect x="466" y="363" width="17" height="17" fill="#d1e2f3"/>
<rect x="483" y="363" width="17" height="17" fill="#dae8f6"/>
<rect x="500" y="363" width="17" height="17" fill="#f7fbff"/>
<rect x="517" y="363" width="17" height="17" fill="#e9f2fa"/>
<rect x="534" y="363" width="34" height="17" fill="#c1d9ed"/>
<rect x="568" y="363" width="17" height="17" fill="#bcd7eb"/>
<rect x="585" y="363" width="17" height="17" fill="#c6dbef"/>
<rect x="602" y="363" width="17" height="17" fill="#dae8f6"/>
<rect x="619" y="363" width="17" height="17" fill="#d6e5f4"/>
<rect x="636" y="363" width="17" height="17" fill="#3383be"/>
<rect x="653" y="363" width="17" height="17" fill="#3787c0"/>
<rect x="670" y="363" width="17" height="17" fill="#083a7a"/>
<rect x="687" y="363" width="17" height="17" fill="#1c6ab0"/>
<rect x="704" y="363" width="17" height="17" fill="#1967ad"/>
<rect x="160" y="346" width="17" height="17" fill="#85bcdc"/>
<rect x="177" y="346" width="17" height="17" fill="#afd1e7"/>
<rect x="194" y="346" width="17" height="17" fill="#a4cce3"/>
<rect x="211" y="346" width="17" height="17" fill="#9cc9e1"/>
<rect x="228" y="346" width="17" height="17" fill="#d3e4f3"/>
<rect x="245" y="346" width="17" height="17" fill="#cfe1f2"/>
<rect x="262" y="346" width="17" height="17" fill="#d1e2f3"/>
<rect x="279" y="346" width="17" height="17" fill="#cbdef1"/>
<rect x="296" y="346" width="17" height="17" fill="#bad6eb"/>
<rect x="313" y="346" width="17" height="17" fill="#c7dcef"/>
<rect x="330" y="346" width="17" height="17" fill="#cde0f1"/>
<rect x="347" y="346" width="17" height="17" fill="#d0e1f2"/>
<rect x="364" y="346" width="17" height="17" fill="#a9cfe5"/>
<rect x="381" y="346" width="17" height="17" fill="#c1d9ed"/>
<rect x="398" y="346" width="17" height="17" fill="#caddf0"/>
<rect x="415" y="346" width="17" height="17" fill="#cde0f1"/>
<rect x="432" y="346" width="17" height="17" fill="#d3e4f3"/>
<rect x="449" y="346" width="17" height="17" fill="#d5e5f4"/>
<rect x="466" y="346" width="17" height="17" fill="#cfe1f2"/>
<rect x="483" y="346" width="17" height="17" fill="#d9e7f5"/>
<rect x="500" y="346" width="17" height="17" fill="#e9f2fa"/>
<rect x="517" y="346" width="17" height="17" fill="#f7fbff"/>
<rect x="534" y="346" width="34" height="17" fill="#c2d9ee"/>
<rect x="568" y="346" width="17" height="17" fill="#bfd8ed"/>
<rect x="585" y="346" width="17" height="17" fill="#d1e2f3"/>
<rect x="602" y="346" width="17" height="17" fill="#e3eef9"/>
<rect x="619" y="346" width="17" height="17" fill="#dceaf6"/>
<rect x="636" y="346" width="17" height="17" fill="#3989c1"/>
<rect x="653" y="346" width="17" height="17" fill="#3e8ec4"/>
<rect x="670" y="346" width="17" height="17" fill="#083a7a"/>
<rect x="687" y="346" width="17" height="17" fill="#1e6db2"/>
<rect x="704" y="346" width="17" height="17" fill="#1c6ab0"/>
<rect x="160" y="329" width="17" height="17" fill="#4896c8"/>
<rect x="177" y="329" width="17" height="17" fill="#6aaed6"/>
<rect x="194" y="329" width="17" height="17" fill="#5fa6d1"/>
<rect x="211" y="329" width="17" height="17" fill="#5ca4d0"/>
<rect x="228" y="329" width="17" height="17" fill="#b3d3e8"/>
<rect x="245" y="329" width="17" height="17" fill="#add0e6"/>
<rect x="262" y="329" width="17" height="17" fill="#aed1e7"/>
<rect x="279" y="329" width="17" height="17" fill="#a4cce3"/>
<rect x="296" y="329" width="17" height="17" fill="#8abfdd"/>
<rect x="313" y="329" width="17" height="17" fill="#a6cee4"/>
<rect x="330" y="329" width="17" height="17" fill="#afd1e7"/>
<rect x="347" y="329" width="17" height="17" fill="#c8dcf0"/>
<rect x="364" y="329" width="17" height="17" fill="#87bddc"/>
<rect x="381" y="329" width="17" height="17" fill="#95c5df"/>
<rect x="398" y="329" width="17" height="17" fill="#a4cce3"/>
<rect x="415" y="329" width="17" height="17" fill="#a0cbe2"/>
<rect x="432" y="329" width="17" height="17" fill="#b0d2e7"/>
<rect x="449" y="329" width="17" height="17" fill="#a6cee4"/>
<rect x="466" y="329" width="17" height="17" fill="#94c4df"/>
<rect x="483" y="329" width="17" height="17" fill="#a4cce3"/>
<rect x="500" y="329" width="17" height="17" fill="#c1d9ed"/>
<rect x="517" y="329" width="17" height="17" fill="#c2d9ee"/>
<rect x="534" y="329" width="17" height="17" fill="#f7fbff"/>
<rect x="551" y="329" width="17" height="17" fill="#a4cce3"/>
<rect x="568" y="329" width="17" height="17" fill="#a1cbe2"/>
<rect x="585" y="329" width="17" height="17" fill="#c6dbef"/>
<rect x="602" y="329" width="17" height="17" fill="#c9ddf0"/>
<rect x="619" y="329" width="17" height="17" fill="#afd1e7"/>
<rect x="636" y="329" width="17" height="17" fill="#2575b7"/>
<rect x="653" y="329" width="17" height="17" fill="#2373b6"/>
<rect x="670" y="329" width="17" height="17" fill="#083776"/>
<rect x="687" y="329" width="17" height="17" fill="#1e6db2"/>
<rect x="704" y="329" width="17" height="17" fill="#1c6ab0"/>
<rect x="160" y="312" width="17" height="17" fill="#6aaed6"/>
<rect x="177" y="312" width="17" height="17" fill="#a6cee4"/>
<rect x="194" y="312" width="17" height="17" fill="#add0e6"/>
<rect x="211" y="312" width="17" height="17" fill="#b4d3e9"/>
<rect x="228" y="312" width="17" height="17" fill="#b9d6ea"/>
<rect x="245" y="312" width="17" height="17" fill="#d1e2f3"/>
<rect x="262" y="312" width="17" height="17" fill="#bdd7ec"/>
<rect x="279" y="312" width="17" height="17" fill="#c4daee"/>
<rect x="296" y="312" width="34" height="17" fill="#d3e4f3"/>
<rect x="330" y="312" width="17" height="17" fill="#d1e2f3"/>
<rect x="347" y="312" width="17" height="17" fill="#c8dcf0"/>
<rect x="364" y="312" width="17" height="17" fill="#c7dcef"/>
<rect x="381" y="312" width="17" height="17" fill="#cee0f2"/>
<rect x="398" y="312" width="17" height="17" fill="#c9ddf0"/>
<rect x="415" y="312" width="17" height="17" fill="#d1e2f3"/>
<rect x="432" y="312" width="34" height="17" fill="#d6e6f4"/>
<rect x="466" y="312" width="17" height="17" fill="#b3d3e8"/>
<rect x="483" y="312" width="17" height="17" fill="#a3cce3"/>
<rect x="500" y="312" width="17" height="17" fill="#c1d9ed"/>
<rect x="517" y="312" width="17" height="17" fill="#c2d9ee"/>
<rect x="534" y="312" width="17" height="17" fill="#a4cce3"/>
<rect x="551" y="312" width="17" height="17" fill="#f7fbff"/>
<rect x="568" y="312" width="17" height="17" fill="#deebf7"/>
<rect x="585" y="312" width="17" height="17" fill="#d3e4f3"/>
<rect x="602" y="312" width="17" height="17" fill="#c4daee"/>
<rect x="619" y="312" width="17" height="17" fill="#d3e4f3"/>
<rect x="636" y="312" width="34" height="17" fill="#5ba3d0"/>
<rect x="670" y="312" width="17" height="17" fill="#084b93"/>
<rect x="687" y="312" width="17" height="17" fill="#4a98c9"/>
<rect x="704" y="312" width="17" height="17" fill="#4695c8"/>
<rect x="160" y="295" width="17" height="17" fill="#549fcd"/>
<rect x="177" y="295" width="17" height="17" fill="#91c3de"/>
<rect x="194" y="295" width="17" height="17" fill="#8dc1dd"/>
<rect x="211" y="295" width="17" height="17" fill="#99c7e0"/>
<rect x="228" y="295" width="17" height="17" fill="#b3d3e8"/>
<rect x="245" y="295" width="17" height="17" fill="#cddff1"/>
<rect x="262" y="295" width="34" height="17" fill="#afd1e7"/>
<rect x="296" y="295" width="17" height="17" fill="#cbdef1"/>
<rect x="313" y="295" width="17" height="17" fill="#d1e2f3"/>
<rect x="330" y="295" width="17" height="17" fill="#c4daee"/>
<rect x="347" y="295" width="17" height="17" fill="#c7dcef"/>
<rect x="364" y="295" width="17" height="17" fill="#b5d4e9"/>
<rect x="381" y="295" width="17" height="17" fill="#c2d9ee"/>
<rect x="398" y="295" width="17" height="17" fill="#b9d6ea"/>
<rect x="415" y="295" width="17" height="17" fill="#c7dcef"/>
<rect x="432" y="295" width="17" height="17" fill="#d0e1f2"/>
<rect x="449" y="295" width="17" height="17" fill="#caddf0"/>
<rect x="466" y="295" width="17" height="17" fill="#a0cbe2"/>
<rect x="483" y="295" width="17" height="17" fill="#99c7e0"/>
<rect x="500" y="295" width="17" height="17" fill="#bcd7eb"/>
<rect x="517" y="295" width="17" height="17" fill="#bfd8ed"/>
<rect x="534" y="295" width="17" height="17" fill="#a1cbe2"/>
<rect x="551" y="295" width="17" height="17" fill="#deebf7"/>
<rect x="568" y="295" width="17" height="17" fill="#f7fbff"/>
<rect x="585" y="295" width="17" height="17" fill="#dbe9f6"/>
<rect x="602" y="295" width="17" height="17" fill="#bed8ec"/>
<rect x="619" y="295" width="17" height="17" fill="#d3e4f3"/>
<rect x="636" y="295" width="34" height="17" fill="#549fcd"/>
<rect x="670" y="295" width="17" height="17" fill="#084387"/>
<rect x="687" y="295" width="17" height="17" fill="#3d8dc4"/>
<rect x="704" y="295" width="17" height="17" fill="#3a8ac2"/>
<rect x="160" y="278" width="17" height="17" fill="#4e9acb"/>
<rect x="177" y="278" width="17" height="17" fill="#94c4df"/>
<rect x="194" y="278" width="17" height="17" fill="#89bedc"/>
<rect x="211" y="278" width="17" height="17" fill="#92c4de"/>
<rect x="228" y="278" width="17" height="17" fill="#ccdff1"/>
<rect x="245" y="278" width="17" height="17" fill="#d5e5f4"/>
<rect x="262" y="278" width="17" height="17" fill="#c4daee"/>
<rect x="279" y="278" width="17" height="17" fill="#bed8ec"/>
<rect x="296" y="278" width="17" height="17" fill="#cddff1"/>
<rect x="313" y="278" width="17" height="17" fill="#d9e7f5"/>
<rect x="330" y="278" width="17" height="17" fill="#d0e1f2"/>
<rect x="347" y="278" width="17" height="17" fill="#dbe9f6"/>
<rect x="364" y="278" width="17" height="17" fill="#a6cee4"/>
<rect x="381" y="278" width="17" height="17" fill="#afd1e7"/>
<rect x="398" y="278" width="17" height="17" fill="#b7d4ea"/>
<rect x="415" y="278" width="17" height="17" fill="#c4daee"/>
<rect x="432" y="278" width="17" height="17" fill="#cfe1f2"/>
<rect x="449" y="278" width="17" height="17" fill="#cde0f1"/>
<rect x="466" y="278" width="34" height="17" fill="#a6cee4"/>
<rect x="500" y="278" width="17" height="17" fill="#c6dbef"/>
<rect x="517" y="278" width="17" height="17" fill="#d1e2f3"/>
<rect x="534" y="278" width="17" height="17" fill="#c6dbef"/>
<rect x="551" y="278" width="17" height="17" fill="#d3e4f3"/>
<rect x="568" y="278" width="17" height="17" fill="#dbe9f6"/>
<rect x="585" y="278" width="17" height="17" fill="#f7fbff"/>
<rect x="602" y="278" width="17" height="17" fill="#d4e4f4"/>
<rect x="619" y="278" width="17" height="17" fill="#dceaf6"/>
<rect x="636" y="278" width="17" height="17" fill="#4090c5"/>
<rect x="653" y="278" width="17" height="17" fill="#4191c6"/>
<rect x="670" y="278" width="17" height="17" fill="#08306b"/>
<rect x="687" y="278" width="34" height="17" fill="#1d6cb1"/>
<rect x="160" y="261" width="17" height="17" fill="#6fb0d7"/>
<rect x="177" y="261" width="17" height="17" fill="#a9cfe5"/>
<rect x="194" y="261" width="17" height="17" fill="#9fcae1"/>
<rect x="211" y="261" width="17" height="17" fill="#a4cce3"/>
<rect x="228" y="261" width="17" height="17" fill="#d8e7f5"/>
<rect x="245" y="261" width="34" height="17" fill="#d7e6f5"/>
<rect x="279" y="261" width="17" height="17" fill="#d8e7f5"/>
<rect x="296" y="261" width="17" height="17" fill="#cddff1"/>
<rect x="313" y="261" width="17" height="17" fill="#d3e4f3"/>
<rect x="330" y="261" width="17" height="17" fill="#d8e7f5"/>
<rect x="347" y="261" width="17" height="17" fill="#deebf7"/>
<rect x="364" y="261" width="17" height="17" fill="#a6cee4"/>
<rect x="381" y="261" width="17" height="17" fill="#afd1e7"/>
<rect x="398" y="261" width="17" height="17" fill="#c4daee"/>
<rect x="415" y="261" width="17" height="17" fill="#c9ddf0"/>
<rect x="432" y="261" width="17" height="17" fill="#d0e1f2"/>
<rect x="449" y="261" width="17" height="17" fill="#d8e7f5"/>
<rect x="466" y="261" width="34" height="17" fill="#d1e2f3"/>
<rect x="500" y="261" width="17" height="17" fill="#dae8f6"/>
<rect x="517" y="261" width="17" height="17" fill="#e3eef9"/>
<rect x="534" y="261" width="17" height="17" fill="#c9ddf0"/>
<rect x="551" y="261" width="17" height="17" fill="#c4daee"/>
<rect x="568" y="261" width="17" height="17" fill="#bed8ec"/>
<rect x="585" y="261" width="17" height="17" fill="#d4e4f4"/>
<rect x="602" y="261" width="17" height="17" fill="#f7fbff"/>
<rect x="619" y="261" width="17" height="17" fill="#e1edf8"/>
<rect x="636" y="261" width="17" height="17" fill="#3b8bc2"/>
<rect x="653" y="261" width="17" height="17" fill="#3d8dc4"/>
<rect x="670" y="261" width="17" height="17" fill="#083370"/>
<rect x="687" y="261" width="17" height="17" fill="#1c6ab0"/>
<rect x="704" y="261" width="17" height="17" fill="#1b69af"/>
<rect x="160" y="244" width="17" height="17" fill="#6aaed6"/>
<rect x="177" y="244" width="17" height="17" fill="#a4cce3"/>
<rect x="194" y="244" width="17" height="17" fill="#9fcae1"/>
<rect x="211" y="244" width="17" height="17" fill="#add0e6"/>
<rect x="228" y="244" width="17" height="17" fill="#d3e4f3"/>
<rect x="245" y="244" width="17" height="17" fill="#d8e7f5"/>
<rect x="262" y="244" width="34" height="17" fill="#d3e3f3"/>
<rect x="296" y="244" width="17" height="17" fill="#d6e6f4"/>
<rect x="313" y="244" width="17" height="17" fill="#dce9f6"/>
<rect x="330" y="244" width="17" height="17" fill="#d5e5f4"/>
<rect x="347" y="244" width="17" height="17" fill="#dceaf6"/>
<rect x="364" y="244" width="17" height="17" fill="#b0d2e7"/>
<rect x="381" y="244" width="17" height="17" fill="#bfd8ed"/>
<rect x="398" y="244" width="17" height="17" fill="#c9ddf0"/>
<rect x="415" y="244" width="17" height="17" fill="#d1e2f3"/>
<rect x="432" y="244" width="17" height="17" fill="#d3e4f3"/>
<rect x="449" y="244" width="17" height="17" fill="#dae8f6"/>
<rect x="466" y="244" width="17" height="17" fill="#caddf0"/>
<rect x="483" y="244" width="17" height="17" fill="#c7dcef"/>
<rect x="500" y="244" width="17" height="17" fill="#d6e5f4"/>
<rect x="517" y="244" width="17" height="17" fill="#dceaf6"/>
<rect x="534" y="244" width="17" height="17" fill="#afd1e7"/>
<rect x="551" y="244" width="34" height="17" fill="#d3e4f3"/>
<rect x="585" y="244" width="17" height="17" fill="#dceaf6"/>
<rect x="602" y="244" width="17" height="17" fill="#e1edf8"/>
<rect x="619" y="244" width="17" height="17" fill="#f7fbff"/>
<rect x="636" y="244" width="17" height="17" fill="#4695c8"/>
<rect x="653" y="244" width="17" height="17" fill="#4997c9"/>
<rect x="670" y="244" width="17" height="17" fill="#083370"/>
<rect x="687" y="244" width="17" height="17" fill="#2171b5"/>
<rect x="704" y="244" width="17" height="17" fill="#1f6eb3"/>
<rect x="160" y="227" width="17" height="17" fill="#2f7fbc"/>
<rect x="177" y="227" width="17" height="17" fill="#3d8dc4"/>
<rect x="194" y="227" width="17" height="17" fill="#3686c0"/>
<rect x="211" y="227" width="17" height="17" fill="#3d8dc4"/>
<rect x="228" y="227" width="17" height="17" fill="#3585bf"/>
<rect x="245" y="227" width="17" height="17" fill="#5ba3d0"/>
<rect x="262" y="227" width="17" height="17" fill="#4493c7"/>
<rect x="279" y="227" width="17" height="17" fill="#4b98ca"/>
<rect x="296" y="227" width="17" height="17" fill="#4e9acb"/>
<rect x="313" y="227" width="17" height="17" fill="#519ccc"/>
<rect x="330" y="227" width="17" height="17" fill="#4695c8"/>
<rect x="347" y="227" width="17" height="17" fill="#4090c5"/>
<rect x="364" y="227" width="34" height="17" fill="#63a8d3"/>
<rect x="398" y="227" width="17" height="17" fill="#3181bd"/>
<rect x="415" y="227" width="17" height="17" fill="#3e8ec4"/>
<rect x="432" y="227" width="17" height="17" fill="#5da5d1"/>
<rect x="449" y="227" width="17" height="17" fill="#56a0ce"/>
<rect x="466" y="227" width="17" height="17" fill="#3787c0"/>
<rect x="483" y="227" width="17" height="17" fill="#3282be"/>
<rect x="500" y="227" width="17" height="17" fill="#3383be"/>
<rect x="517" y="227" width="17" height="17" fill="#3989c1"/>
<rect x="534" y="227" width="17" height="17" fill="#2575b7"/>
<rect x="551" y="227" width="17" height="17" fill="#5ba3d0"/>
<rect x="568" y="227" width="17" height="17" fill="#549fcd"/>
<rect x="585" y="227" width="17" height="17" fill="#4090c5"/>
<rect x="602" y="227" width="17" height="17" fill="#3b8bc2"/>
<rect x="619" y="227" width="17" height="17" fill="#4695c8"/>
<rect x="636" y="227" width="17" height="17" fill="#f7fbff"/>
<rect x="653" y="227" width="17" height="17" fill="#e2edf8"/>
<rect x="670" y="227" width="17" height="17" fill="#4695c8"/>
<rect x="687" y="227" width="17" height="17" fill="#8cc0dd"/>
<rect x="704" y="227" width="17" height="17" fill="#89bedc"/>
<rect x="160" y="210" width="17" height="17" fill="#3282be"/>
<rect x="177" y="210" width="17" height="17" fill="#4594c7"/>
<rect x="194" y="210" width="17" height="17" fill="#3d8dc4"/>
<rect x="211" y="210" width="17" height="17" fill="#4896c8"/>
<rect x="228" y="210" width="17" height="17" fill="#3a8ac2"/>
<rect x="245" y="210" width="17" height="17" fill="#63a8d3"/>
<rect x="262" y="210" width="17" height="17" fill="#4896c8"/>
<rect x="279" y="210" width="17" height="17" fill="#4f9bcb"/>
<rect x="296" y="210" width="17" height="17" fill="#4e9acb"/>
<rect x="313" y="210" width="17" height="17" fill="#519ccc"/>
<rect x="330" y="210" width="17" height="17" fill="#4997c9"/>
<rect x="347" y="210" width="17" height="17" fill="#4292c6"/>
<rect x="364" y="210" width="34" height="17" fill="#63a8d3"/>
<rect x="398" y="210" width="17" height="17" fill="#3585bf"/>
<rect x="415" y="210" width="17" height="17" fill="#4090c5"/>
<rect x="432" y="210" width="17" height="17" fill="#5da5d1"/>
<rect x="449" y="210" width="17" height="17" fill="#5ca4d0"/>
<rect x="466" y="210" width="17" height="17" fill="#3e8ec4"/>
<rect x="483" y="210" width="34" height="17" fill="#3787c0"/>
<rect x="517" y="210" width="17" height="17" fill="#3e8ec4"/>
<rect x="534" y="210" width="17" height="17" fill="#2373b6"/>
<rect x="551" y="210" width="17" height="17" fill="#5ba3d0"/>
<rect x="568" y="210" width="17" height="17" fill="#549fcd"/>
<rect x="585" y="210" width="17" height="17" fill="#4191c6"/>
<rect x="602" y="210" width="17" height="17" fill="#3d8dc4"/>
<rect x="619" y="210" width="17" height="17" fill="#4997c9"/>
<rect x="636" y="210" width="17" height="17" fill="#e2edf8"/>
<rect x="653" y="210" width="17" height="17" fill="#f7fbff"/>
<rect x="670" y="210" width="17" height="17" fill="#4191c6"/>
<rect x="687" y="210" width="17" height="17" fill="#87bddc"/>
<rect x="704" y="210" width="17" height="17" fill="#81badb"/>
<rect x="160" y="193" width="17" height="17" fill="#1967ad"/>
<rect x="177" y="193" width="17" height="17" fill="#0f5aa3"/>
<rect x="194" y="193" width="17" height="17" fill="#0d57a1"/>
<rect x="211" y="193" width="17" height="17" fill="#084990"/>
<rect x="228" y="193" width="17" height="17" fill="#08306b"/>
<rect x="245" y="193" width="17" height="17" fill="#084d96"/>
<rect x="262" y="193" width="17" height="17" fill="#08458a"/>
<rect x="279" y="193" width="17" height="17" fill="#084f99"/>
<rect x="296" y="193" width="17" height="17" fill="#083674"/>
<rect x="313" y="193" width="17" height="17" fill="#083877"/>
<rect x="330" y="193" width="17" height="17" fill="#08458a"/>
<rect x="347" y="193" width="17" height="17" fill="#08306b"/>
<rect x="364" y="193" width="17" height="17" fill="#1c6ab0"/>
<rect x="381" y="193" width="17" height="17" fill="#1865ac"/>
<rect x="398" y="193" width="34" height="17" fill="#084387"/>
<rect x="432" y="193" width="17" height="17" fill="#1764ab"/>
<rect x="449" y="193" width="17" height="17" fill="#0a539e"/>
<rect x="466" y="193" width="17" height="17" fill="#08458a"/>
<rect x="483" y="193" width="17" height="17" fill="#083b7c"/>
<rect x="500" y="193" width="34" height="17" fill="#083a7a"/>
<rect x="534" y="193" width="17" height="17" fill="#083776"/>
<rect x="551" y="193" width="17" height="17" fill="#084b93"/>
<rect x="568" y="193" width="17" height="17" fill="#084387"/>
<rect x="585" y="193" width="17" height="17" fill="#08306b"/>
<rect x="602" y="193" width="34" height="17" fill="#083370"/>
<rect x="636" y="193" width="17" height="17" fill="#4695c8"/>
<rect x="653" y="193" width="17" height="17" fill="#4191c6"/>
<rect x="670" y="193" width="17" height="17" fill="#f7fbff"/>
<rect x="687" y="193" width="17" height="17" fill="#81badb"/>
<rect x="704" y="193" width="17" height="17" fill="#7ab6d9"/>
<rect x="160" y="176" width="17" height="17" fill="#2272b6"/>
<rect x="177" y="176" width="17" height="17" fill="#2d7dbb"/>
<rect x="194" y="176" width="17" height="17" fill="#3787c0"/>
<rect x="211" y="176" width="17" height="17" fill="#3888c1"/>
<rect x="228" y="176" width="17" height="17" fill="#2474b7"/>
<rect x="245" y="176" width="17" height="17" fill="#4292c6"/>
<rect x="262" y="176" width="17" height="17" fill="#3282be"/>
<rect x="279" y="176" width="17" height="17" fill="#3b8bc2"/>
<rect x="296" y="176" width="17" height="17" fill="#3383be"/>
<rect x="313" y="176" width="17" height="17" fill="#3181bd"/>
<rect x="330" y="176" width="17" height="17" fill="#3787c0"/>
<rect x="347" y="176" width="17" height="17" fill="#2a7ab9"/>
<rect x="364" y="176" width="17" height="17" fill="#6dafd7"/>
<rect x="381" y="176" width="17" height="17" fill="#5da5d1"/>
<rect x="398" y="176" width="17" height="17" fill="#2f7fbc"/>
<rect x="415" y="176" width="17" height="17" fill="#3686c0"/>
<rect x="432" y="176" width="17" height="17" fill="#4e9acb"/>
<rect x="449" y="176" width="17" height="17" fill="#3b8bc2"/>
<rect x="466" y="176" width="17" height="17" fill="#1c6ab0"/>
<rect x="483" y="176" width="17" height="17" fill="#1561a9"/>
<rect x="500" y="176" width="17" height="17" fill="#1c6ab0"/>
<rect x="517" y="176" width="34" height="17" fill="#1e6db2"/>
<rect x="551" y="176" width="17" height="17" fill="#4a98c9"/>
<rect x="568" y="176" width="17" height="17" fill="#3d8dc4"/>
<rect x="585" y="176" width="17" height="17" fill="#1d6cb1"/>
<rect x="602" y="176" width="17" height="17" fill="#1c6ab0"/>
<rect x="619" y="176" width="17" height="17" fill="#2171b5"/>
<rect x="636" y="176" width="17" height="17" fill="#8cc0dd"/>
<rect x="653" y="176" width="17" height="17" fill="#87bddc"/>
<rect x="670" y="176" width="17" height="17" fill="#81badb"/>
<rect x="687" y="176" width="17" height="17" fill="#f7fbff"/>
<rect x="704" y="176" width="17" height="17" fill="#e3eef8"/>
<rect x="160" y="160" width="17" height="16" fill="#1e6db2"/>
<rect x="177" y="160" width="17" height="16" fill="#2b7bba"/>
<rect x="194" y="160" width="17" height="16" fill="#3787c0"/>
<rect x="211" y="160" width="17" height="16" fill="#3888c1"/>
<rect x="228" y="160" width="17" height="16" fill="#2676b8"/>
<rect x="245" y="160" width="17" height="16" fill="#4695c8"/>
<rect x="262" y="160" width="17" height="16" fill="#3484bf"/>
<rect x="279" y="160" width="17" height="16" fill="#3b8bc2"/>
<rect x="296" y="160" width="17" height="16" fill="#3383be"/>
<rect x="313" y="160" width="17" height="16" fill="#3181bd"/>
<rect x="330" y="160" width="17" height="16" fill="#3787c0"/>
<rect x="347" y="160" width="17" height="16" fill="#2a7ab9"/>
<rect x="364" y="160" width="17" height="16" fill="#65aad4"/>
<rect x="381" y="160" width="17" height="16" fill="#549fcd"/>
<rect x="398" y="160" width="17" height="16" fill="#2a7ab9"/>
<rect x="415" y="160" width="17" height="16" fill="#2f7fbc"/>
<rect x="432" y="160" width="17" height="16" fill="#4695c8"/>
<rect x="449" y="160" width="17" height="16" fill="#3989c1"/>
<rect x="466" y="160" width="17" height="16" fill="#1c6ab0"/>
<rect x="483" y="160" width="17" height="16" fill="#115ca5"/>
<rect x="500" y="160" width="17" height="16" fill="#1967ad"/>
<rect x="517" y="160" width="34" height="16" fill="#1c6ab0"/>
<rect x="551" y="160" width="17" height="16" fill="#4695c8"/>
<rect x="568" y="160" width="17" height="16" fill="#3a8ac2"/>
<rect x="585" y="160" width="17" height="16" fill="#1d6cb1"/>
<rect x="602" y="160" width="17" height="16" fill="#1b69af"/>
<rect x="619" y="160" width="17" height="16" fill="#1f6eb3"/>
<rect x="636" y="160" width="17" height="16" fill="#89bedc"/>
<rect x="653" y="160" width="17" height="16" fill="#81badb"/>
<rect x="670" y="160" width="17" height="16" fill="#7ab6d9"/>
<rect x="687" y="160" width="17" height="16" fill="#e3eef8"/>
<rect x="704" y="160" width="17" height="16" fill="#f7fbff"/>
</g>
<g shape-rendering="crispEdges">
<rect x="744" y="160" width="17" height="1" fill="#08306b"/>
<rect x="744" y="161" width="17" height="1" fill="#08306b"/>
<rect x="744" y="162" width="17" height="1" fill="#08306b"/>
<rect x="744" y="163" width="17" height="1" fill="#08316d"/>
<rect x="744" y="164" width="17" height="1" fill="#08316d"/>
<rect x="744" y="165" width="17" height="1" fill="#08326e"/>
<rect x="744" y="166" width="17" height="1" fill="#08326e"/>
<rect x="744" y="167" width="17" height="1" fill="#083370"/>
<rect x="744" y="168" width="17" height="1" fill="#083370"/>
<rect x="744" y="169" width="17" height="1" fill="#083471"/>
<rect x="744" y="170" width="17" height="1" fill="#083471"/>
<rect x="744" y="171" width="17" height="1" fill="#083573"/>
<rect x="744" y="172" width="17" height="1" fill="#083573"/>
<rect x="744" y="173" width="17" height="1" fill="#083573"/>
<rect x="744" y="174" width="17" height="1" fill="#083674"/>
<rect x="744" y="175" width="17" height="1" fill="#083674"/>
<rect x="744" y="176" width="17" height="1" fill="#083776"/>
<rect x="744" y="177" width="17" height="1" fill="#083776"/>
<rect x="744" y="178" width="17" height="1" fill="#083877"/>
<rect x="744" y="179" width="17" height="1" fill="#083877"/>
<rect x="744" y="180" width="17" height="1" fill="#083979"/>
<rect x="744" y="181" width="17" height="1" fill="#083979"/>
<rect x="744" y="182" width="17" height="1" fill="#083a7a"/>
<rect x="744" y="183" width="17" height="1" fill="#083a7a"/>
<rect x="744" y="184" width="17" height="1" fill="#083a7a"/>
<rect x="744" y="185" width="17" height="1" fill="#083b7c"/>
<rect x="744" y="186" width="17" height="1" fill="#083b7c"/>
<rect x="744" y="187" width="17" height="1" fill="#083c7d"/>
<rect x="744" y="188" width="17" height="1" fill="#083c7d"/>
<rect x="744" y="189" width="17" height="1" fill="#083d7f"/>
<rect x="744" y="190" width="17" height="1" fill="#083d7f"/>
<rect x="744" y="191" width="17" height="1" fill="#083e81"/>
<rect x="744" y="192" width="17" height="1" fill="#083e81"/>
<rect x="744" y="193" width="17" height="1" fill="#084082"/>
<rect x="744" y="194" width="17" height="1" fill="#084082"/>
<rect x="744" y="195" width="17" height="1" fill="#084082"/>
<rect x="744" y="196" width="17" height="1" fill="#084184"/>
<rect x="744" y="197" width="17" height="1" fill="#084184"/>
<rect x="744" y="198" width="17" height="1" fill="#084285"/>
<rect x="744" y="199" width="17" height="1" fill="#084285"/>
<rect x="744" y="200" width="17" height="1" fill="#084387"/>
<rect x="744" y="201" width="17" height="1" fill="#084387"/>
<rect x="744" y="202" width="17" height="1" fill="#084488"/>
<rect x="744" y="203" width="17" height="1" fill="#084488"/>
<rect x="744" y="204" width="17" height="1" fill="#08458a"/>
<rect x="744" y="205" width="17" height="1" fill="#08458a"/>
<rect x="744" y="206" width="17" height="1" fill="#08468b"/>
<rect x="744" y="207" width="17" height="1" fill="#08468b"/>
<rect x="744" y="208" width="17" height="1" fill="#08468b"/>
<rect x="744" y="209" width="17" height="1" fill="#08478d"/>
<rect x="744" y="210" width="17" height="1" fill="#08478d"/>
<rect x="744" y="211" width="17" height="1" fill="#08488e"/>
<rect x="744" y="212" width="17" height="1" fill="#08488e"/>
<rect x="744" y="213" width="17" height="1" fill="#084990"/>
<rect x="744" y="214" width="17" height="1" fill="#084990"/>
<rect x="744" y="215" width="17" height="1" fill="#084a91"/>
<rect x="744" y="216" width="17" height="1" fill="#084a91"/>
<rect x="744" y="217" width="17" height="1" fill="#084b93"/>
<rect x="744" y="218" width="17" height="1" fill="#084b93"/>
<rect x="744" y="219" width="17" height="1" fill="#084b93"/>
<rect x="744" y="220" width="17" height="1" fill="#084c95"/>
<rect x="744" y="221" width="17" height="1" fill="#084c95"/>
<rect x="744" y="222" width="17" height="1" fill="#084d96"/>
<rect x="744" y="223" width="17" height="1" fill="#084d96"/>
<rect x="744" y="224" width="17" height="1" fill="#084e98"/>
<rect x="744" y="225" width="17" height="1" fill="#084e98"/>
<rect x="744" y="226" width="17" height="1" fill="#084f99"/>
<rect x="744" y="227" width="17" height="1" fill="#084f99"/>
<rect x="744" y="228" width="17" height="1" fill="#08509b"/>
<rect x="744" y="229" width="17" height="1" fill="#08509b"/>
<rect x="744" y="230" width="17" height="1" fill="#08509b"/>
<rect x="744" y="231" width="17" height="1" fill="#08519c"/>
<rect x="744" y="232" width="17" height="1" fill="#08519c"/>
<rect x="744" y="233" width="17" height="1" fill="#09529d"/>
<rect x="744" y="234" width="17" height="1" fill="#09529d"/>
<rect x="744" y="235" width="17" height="1" fill="#0a539e"/>
<rect x="744" y="236" width="17" height="1" fill="#0a539e"/>
<rect x="744" y="237" width="17" height="1" fill="#0a549e"/>
<rect x="744" y="238" width="17" height="1" fill="#0a549e"/>
<rect x="744" y="239" width="17" height="1" fill="#0b559f"/>
<rect x="744" y="240" width="17" height="1" fill="#0b559f"/>
<rect x="744" y="241" width="17" height="1" fill="#0c56a0"/>
<rect x="744" y="242" width="17" height="1" fill="#0c56a0"/>
<rect x="744" y="243" width="17" height="1" fill="#0c56a0"/>
<rect x="744" y="244" width="17" height="1" fill="#0d57a1"/>
<rect x="744" y="245" width="17" height="1" fill="#0d57a1"/>
<rect x="744" y="246" width="17" height="1" fill="#0e58a2"/>
<rect x="744" y="247" width="17" height="1" fill="#0e58a2"/>
<rect x="744" y="248" width="17" height="1" fill="#0e59a2"/>
<rect x="744" y="249" width="17" height="1" fill="#0e59a2"/>
<rect x="744" y="250" width="17" height="1" fill="#0f5aa3"/>
<rect x="744" y="251" width="17" height="1" fill="#0f5aa3"/>
<rect x="744" y="252" width="17" height="1" fill="#105ba4"/>
<rect x="744" y="253" width="17" height="1" fill="#105ba4"/>
<rect x="744" y="254" width="17" height="1" fill="#105ba4"/>
<rect x="744" y="255" width="17" height="1" fill="#115ca5"/>
<rect x="744" y="256" width="17" height="1" fill="#115ca5"/>
<rect x="744" y="257" width="17" height="1" fill="#125da6"/>
<rect x="744" y="258" width="17" height="1" fill="#125da6"/>
<rect x="744" y="259" width="17" height="1" fill="#125ea6"/>
<rect x="744" y="260" width="17" height="1" fill="#125ea6"/>
<rect x="744" y="261" width="17" height="1" fill="#135fa7"/>
<rect x="744" y="262" width="17" height="1" fill="#135fa7"/>
<rect x="744" y="263" width="17" height="1" fill="#1460a8"/>
<rect x="744" y="264" width="17" height="1" fill="#1460a8"/>
<rect x="744" y="265" width="17" height="1" fill="#1460a8"/>
<rect x="744" y="266" width="17" height="1" fill="#1561a9"/>
<rect x="744" y="267" width="17" height="1" fill="#1561a9"/>
<rect x="744" y="268" width="17" height="1" fill="#1562a9"/>
<rect x="744" y="269" width="17" height="1" fill="#1562a9"/>
<rect x="744" y="270" width="17" height="1" fill="#1663aa"/>
<rect x="744" y="271" width="17" height="1" fill="#1663aa"/>
<rect x="744" y="272" width="17" height="1" fill="#1764ab"/>
<rect x="744" y="273" width="17" height="1" fill="#1764ab"/>
<rect x="744" y="274" width="17" height="1" fill="#1865ac"/>
<rect x="744" y="275" width="17" height="1" fill="#1865ac"/>
<rect x="744" y="276" width="17" height="1" fill="#1966ad"/>
<rect x="744" y="277" width="17" height="1" fill="#1966ad"/>
<rect x="744" y="278" width="17" height="1" fill="#1966ad"/>
<rect x="744" y="279" width="17" height="1" fill="#1967ad"/>
<rect x="744" y="280" width="17" height="1" fill="#1967ad"/>
<rect x="744" y="281" width="17" height="1" fill="#1a68ae"/>
<rect x="744" y="282" width="17" height="1" fill="#1a68ae"/>
<rect x="744" y="283" width="17" height="1" fill="#1b69af"/>
<rect x="744" y="284" width="17" height="1" fill="#1b69af"/>
<rect x="744" y="285" width="17" height="1" fill="#1c6ab0"/>
<rect x="744" y="286" width="17" height="1" fill="#1c6ab0"/>
<rect x="744" y="287" width="17" height="1" fill="#1c6bb0"/>
<rect x="744" y="288" width="17" height="1" fill="#1c6bb0"/>
<rect x="744" y="289" width="17" height="1" fill="#1c6bb0"/>
<rect x="744" y="290" width="17" height="1" fill="#1d6cb1"/>
<rect x="744" y="291" width="17" height="1" fill="#1d6cb1"/>
<rect x="744" y="292" width="17" height="1" fill="#1e6db2"/>
<rect x="744" y="293" width="17" height="1" fill="#1e6db2"/>
<rect x="744" y="294" width="17" height="1" fill="#1f6eb3"/>
<rect x="744" y="295" width="17" height="1" fill="#1f6eb3"/>
<rect x="744" y="296" width="17" height="1" fill="#206fb4"/>
<rect x="744" y="297" width="17" height="1" fill="#206fb4"/>
<rect x="744" y="298" width="17" height="1" fill="#2070b4"/>
<rect x="744" y="299" width="17" height="1" fill="#2070b4"/>
<rect x="744" y="300" width="17" height="1" fill="#2070b4"/>
<rect x="744" y="301" width="17" height="1" fill="#2171b5"/>
<rect x="744" y="302" width="17" height="1" fill="#2171b5"/>
<rect x="744" y="303" width="17" height="1" fill="#2272b6"/>
<rect x="744" y="304" width="17" height="1" fill="#2272b6"/>
<rect x="744" y="305" width="17" height="1" fill="#2373b6"/>
<rect x="744" y="306" width="17" height="1" fill="#2373b6"/>
<rect x="744" y="307" width="17" height="1" fill="#2474b7"/>
<rect x="744" y="308" width="17" height="1" fill="#2474b7"/>
<rect x="744" y="309" width="17" height="1" fill="#2575b7"/>
<rect x="744" y="310" width="17" height="1" fill="#2575b7"/>
<rect x="744" y="311" width="17" height="1" fill="#2676b8"/>
<rect x="744" y="312" width="17" height="1" fill="#2676b8"/>
<rect x="744" y="313" width="17" height="1" fill="#2676b8"/>
<rect x="744" y="314" width="17" height="1" fill="#2777b8"/>
<rect x="744" y="315" width="17" height="1" fill="#2777b8"/>
<rect x="744" y="316" width="17" height="1" fill="#2979b9"/>
<rect x="744" y="317" width="17" height="1" fill="#2979b9"/>
<rect x="744" y="318" width="17" height="1" fill="#2a7ab9"/>
<rect x="744" y="319" width="17" height="1" fill="#2a7ab9"/>
<rect x="744" y="320" width="17" height="1" fill="#2b7bba"/>
<rect x="744" y="321" width="17" height="1" fill="#2b7bba"/>
<rect x="744" y="322" width="17" height="1" fill="#2c7cba"/>
<rect x="744" y="323" width="17" height="1" fill="#2c7cba"/>
<rect x="744" y="324" width="17" height="1" fill="#2c7cba"/>
<rect x="744" y="325" width="17" height="1" fill="#2d7dbb"/>
<rect x="744" y="326" width="17" height="1" fill="#2d7dbb"/>
<rect x="744" y="327" width="17" height="1" fill="#2e7ebc"/>
<rect x="744" y="328" width="17" height="1" fill="#2e7ebc"/>
<rect x="744" y="329" width="17" height="1" fill="#2f7fbc"/>
<rect x="744" y="330" width="17" height="1" fill="#2f7fbc"/>
<rect x="744" y="331" width="17" height="1" fill="#3080bd"/>
<rect x="744" y="332" width="17" height="1" fill="#3080bd"/>
<rect x="744" y="333" width="17" height="1" fill="#3181bd"/>
<rect x="744" y="334" width="17" height="1" fill="#3181bd"/>
<rect x="744" y="335" width="17" height="1" fill="#3181bd"/>
<rect x="744" y="336" width="17" height="1" fill="#3282be"/>
<rect x="744" y="337" width="17" height="1" fill="#3282be"/>
<rect x="744" y="338" width="17" height="1" fill="#3383be"/>
<rect x="744" y="339" width="17" height="1" fill="#3383be"/>
<rect x="744" y="340" width="17" height="1" fill="#3484bf"/>
<rect x="744" y="341" width="17" height="1" fill="#3484bf"/>
<rect x="744" y="342" width="17" height="1" fill="#3585bf"/>
<rect x="744" y="343" width="17" height="1" fill="#3585bf"/>
<rect x="744" y="344" width="17" height="1" fill="#3686c0"/>
<rect x="744" y="345" width="17" height="1" fill="#3686c0"/>
<rect x="744" y="346" width="17" height="1" fill="#3787c0"/>
<rect x="744" y="347" width="17" height="1" fill="#3787c0"/>
<rect x="744" y="348" width="17" height="1" fill="#3787c0"/>
<rect x="744" y="349" width="17" height="1" fill="#3888c1"/>
<rect x="744" y="350" width="17" height="1" fill="#3888c1"/>
<rect x="744" y="351" width="17" height="1" fill="#3989c1"/>
<rect x="744" y="352" width="17" height="1" fill="#3989c1"/>
<rect x="744" y="353" width="17" height="1" fill="#3a8ac2"/>
<rect x="744" y="354" width="17" height="1" fill="#3a8ac2"/>
<rect x="744" y="355" width="17" height="1" fill="#3b8bc2"/>
<rect x="744" y="356" width="17" height="1" fill="#3b8bc2"/>
<rect x="744" y="357" width="17" height="1" fill="#3c8cc3"/>
<rect x="744" y="358" width="17" height="1" fill="#3c8cc3"/>
<rect x="744" y="359" width="17" height="1" fill="#3c8cc3"/>
<rect x="744" y="360" width="17" height="1" fill="#3d8dc4"/>
<rect x="744" y="361" width="17" height="1" fill="#3d8dc4"/>
<rect x="744" y="362" width="17" height="1" fill="#3e8ec4"/>
<rect x="744" y="363" width="17" height="1" fill="#3e8ec4"/>
<rect x="744" y="364" width="17" height="1" fill="#3f8fc5"/>
<rect x="744" y="365" width="17" height="1" fill="#3f8fc5"/>
<rect x="744" y="366" width="17" height="1" fill="#4090c5"/>
<rect x="744" y="367" width="17" height="1" fill="#4090c5"/>
<rect x="744" y="368" width="17" height="1" fill="#4191c6"/>
<rect x="744" y="369" width="17" height="1" fill="#4191c6"/>
<rect x="744" y="370" width="17" height="1" fill="#4191c6"/>
<rect x="744" y="371" width="17" height="1" fill="#4292c6"/>
<rect x="744" y="372" width="17" height="1" fill="#4292c6"/>
<rect x="744" y="373" width="17" height="1" fill="#4493c7"/>
<rect x="744" y="374" width="17" height="1" fill="#4493c7"/>
<rect x="744" y="375" width="17" height="1" fill="#4594c7"/>
<rect x="744" y="376" width="17" height="1" fill="#4594c7"/>
<rect x="744" y="377" width="17" height="1" fill="#4695c8"/>
<rect x="744" y="378" width="17" height="1" fill="#4695c8"/>
<rect x="744" y="379" width="17" height="1" fill="#4896c8"/>
<rect x="744" y="380" width="17" height="1" fill="#4896c8"/>
<rect x="744" y="381" width="17" height="1" fill="#4997c9"/>
<rect x="744" y="382" width="17" height="1" fill="#4997c9"/>
<rect x="744" y="383" width="17" height="1" fill="#4997c9"/>
<rect x="744" y="384" width="17" height="1" fill="#4a98c9"/>
<rect x="744" y="385" width="17" height="1" fill="#4a98c9"/>
<rect x="744" y="386" width="17" height="1" fill="#4b98ca"/>
<rect x="744" y="387" width="17" height="1" fill="#4b98ca"/>
<rect x="744" y="388" width="17" height="1" fill="#4d99ca"/>
<rect x="744" y="389" width="17" height="1" fill="#4d99ca"/>
<rect x="744" y="390" width="17" height="1" fill="#4e9acb"/>
<rect x="744" y="391" width="17" height="1" fill="#4e9acb"/>
<rect x="744" y="392" width="17" height="1" fill="#4f9bcb"/>
<rect x="744" y="393" width="17" height="1" fill="#4f9bcb"/>
<rect x="744" y="394" width="17" height="1" fill="#4f9bcb"/>
<rect x="744" y="395" width="17" height="1" fill="#519ccc"/>
<rect x="744" y="396" width="17" height="1" fill="#519ccc"/>
<rect x="744" y="397" width="17" height="1" fill="#529dcc"/>
<rect x="744" y="398" width="17" height="1" fill="#529dcc"/>
<rect x="744" y="399" width="17" height="1" fill="#539ecd"/>
<rect x="744" y="400" width="17" height="1" fill="#539ecd"/>
<rect x="744" y="401" width="17" height="1" fill="#549fcd"/>
<rect x="744" y="402" width="17" height="1" fill="#549fcd"/>
<rect x="744" y="403" width="17" height="1" fill="#56a0ce"/>
<rect x="744" y="404" width="17" height="1" fill="#56a0ce"/>
<rect x="744" y="405" width="17" height="1" fill="#56a0ce"/>
<rect x="744" y="406" width="17" height="1" fill="#57a0ce"/>
<rect x="744" y="407" width="17" height="1" fill="#57a0ce"/>
<rect x="744" y="408" width="17" height="1" fill="#58a1cf"/>
<rect x="744" y="409" width="17" height="1" fill="#58a1cf"/>
<rect x="744" y="410" width="17" height="1" fill="#5aa2cf"/>
<rect x="744" y="411" width="17" height="1" fill="#5aa2cf"/>
<rect x="744" y="412" width="17" height="1" fill="#5ba3d0"/>
<rect x="744" y="413" width="17" height="1" fill="#5ba3d0"/>
<rect x="744" y="414" width="17" height="1" fill="#5ca4d0"/>
<rect x="744" y="415" width="17" height="1" fill="#5ca4d0"/>
<rect x="744" y="416" width="17" height="1" fill="#5da5d1"/>
<rect x="744" y="417" width="17" height="1" fill="#5da5d1"/>
<rect x="744" y="418" width="17" height="1" fill="#5da5d1"/>
<rect x="744" y="419" width="17" height="1" fill="#5fa6d1"/>
<rect x="744" y="420" width="17" height="1" fill="#5fa6d1"/>
<rect x="744" y="421" width="17" height="1" fill="#60a7d2"/>
<rect x="744" y="422" width="17" height="1" fill="#60a7d2"/>
<rect x="744" y="423" width="17" height="1" fill="#61a7d2"/>
<rect x="744" y="424" width="17" height="1" fill="#61a7d2"/>
<rect x="744" y="425" width="17" height="1" fill="#63a8d3"/>
<rect x="744" y="426" width="17" height="1" fill="#63a8d3"/>
<rect x="744" y="427" width="17" height="1" fill="#64a9d3"/>
<rect x="744" y="428" width="17" height="1" fill="#64a9d3"/>
<rect x="744" y="429" width="17" height="1" fill="#64a9d3"/>
<rect x="744" y="430" width="17" height="1" fill="#65aad4"/>
<rect x="744" y="431" width="17" height="1" fill="#65aad4"/>
<rect x="744" y="432" width="17" height="1" fill="#66abd4"/>
<rect x="744" y="433" width="17" height="1" fill="#66abd4"/>
<rect x="744" y="434" width="17" height="1" fill="#68acd5"/>
<rect x="744" y="435" width="17" height="1" fill="#68acd5"/>
<rect x="744" y="436" width="17" height="1" fill="#69add5"/>
<rect x="744" y="437" width="17" height="1" fill="#69add5"/>
<rect x="744" y="438" width="17" height="1" fill="#6aaed6"/>
<rect x="744" y="439" width="17" height="1" fill="#6aaed6"/>
<rect x="744" y="440" width="17" height="1" fill="#6aaed6"/>
<rect x="744" y="441" width="17" height="1" fill="#6caed6"/>
<rect x="744" y="442" width="17" height="1" fill="#6caed6"/>
<rect x="744" y="443" width="17" height="1" fill="#6dafd7"/>
<rect x="744" y="444" width="17" height="1" fill="#6dafd7"/>
<rect x="744" y="445" width="17" height="1" fill="#6fb0d7"/>
<rect x="744" y="446" width="17" height="1" fill="#6fb0d7"/>
<rect x="744" y="447" width="17" height="1" fill="#71b1d7"/>
<rect x="744" y="448" width="17" height="1" fill="#71b1d7"/>
<rect x="744" y="449" width="17" height="1" fill="#72b2d8"/>
<rect x="744" y="450" width="17" height="1" fill="#72b2d8"/>
<rect x="744" y="451" width="17" height="1" fill="#74b3d8"/>
<rect x="744" y="452" width="17" height="1" fill="#74b3d8"/>
<rect x="744" y="453" width="17" height="1" fill="#74b3d8"/>
<rect x="744" y="454" width="17" height="1" fill="#75b4d8"/>
<rect x="744" y="455" width="17" height="1" fill="#75b4d8"/>
<rect x="744" y="456" width="17" height="1" fill="#77b5d9"/>
<rect x="744" y="457" width="17" height="1" fill="#77b5d9"/>
<rect x="744" y="458" width="17" height="1" fill="#79b5d9"/>
<rect x="744" y="459" width="17" height="1" fill="#79b5d9"/>
<rect x="744" y="460" width="17" height="1" fill="#7ab6d9"/>
<rect x="744" y="461" width="17" height="1" fill="#7ab6d9"/>
<rect x="744" y="462" width="17" height="1" fill="#7cb7da"/>
<rect x="744" y="463" width="17" height="1" fill="#7cb7da"/>
<rect x="744" y="464" width="17" height="1" fill="#7cb7da"/>
<rect x="744" y="465" width="17" height="1" fill="#7db8da"/>
<rect x="744" y="466" width="17" height="1" fill="#7db8da"/>
<rect x="744" y="467" width="17" height="1" fill="#7fb9da"/>
<rect x="744" y="468" width="17" height="1" fill="#7fb9da"/>
<rect x="744" y="469" width="17" height="1" fill="#81badb"/>
<rect x="744" y="470" width="17" height="1" fill="#81badb"/>
<rect x="744" y="471" width="17" height="1" fill="#82bbdb"/>
<rect x="744" y="472" width="17" height="1" fill="#82bbdb"/>
<rect x="744" y="473" width="17" height="1" fill="#84bcdb"/>
<rect x="744" y="474" width="17" height="1" fill="#84bcdb"/>
<rect x="744" y="475" width="17" height="1" fill="#84bcdb"/>
<rect x="744" y="476" width="17" height="1" fill="#85bcdc"/>
<rect x="744" y="477" width="17" height="1" fill="#85bcdc"/>
<rect x="744" y="478" width="17" height="1" fill="#87bddc"/>
<rect x="744" y="479" width="17" height="1" fill="#87bddc"/>
<rect x="744" y="480" width="17" height="1" fill="#89bedc"/>
<rect x="744" y="481" width="17" height="1" fill="#89bedc"/>
<rect x="744" y="482" width="17" height="1" fill="#8abfdd"/>
<rect x="744" y="483" width="17" height="1" fill="#8abfdd"/>
<rect x="744" y="484" width="17" height="1" fill="#8cc0dd"/>
<rect x="744" y="485" width="17" height="1" fill="#8cc0dd"/>
<rect x="744" y="486" width="17" height="1" fill="#8dc1dd"/>
<rect x="744" y="487" width="17" height="1" fill="#8dc1dd"/>
<rect x="744" y="488" width="17" height="1" fill="#8dc1dd"/>
<rect x="744" y="489" width="17" height="1" fill="#8fc2de"/>
<rect x="744" y="490" width="17" height="1" fill="#8fc2de"/>
<rect x="744" y="491" width="17" height="1" fill="#91c3de"/>
<rect x="744" y="492" width="17" height="1" fill="#91c3de"/>
<rect x="744" y="493" width="17" height="1" fill="#92c4de"/>
<rect x="744" y="494" width="17" height="1" fill="#92c4de"/>
<rect x="744" y="495" width="17" height="1" fill="#94c4df"/>
<rect x="744" y="496" width="17" height="1" fill="#94c4df"/>
<rect x="744" y="497" width="17" height="1" fill="#95c5df"/>
<rect x="744" y="498" width="17" height="1" fill="#95c5df"/>
<rect x="744" y="499" width="17" height="1" fill="#95c5df"/>
<rect x="744" y="500" width="17" height="1" fill="#97c6df"/>
<rect x="744" y="501" width="17" height="1" fill="#97c6df"/>
<rect x="744" y="502" width="17" height="1" fill="#99c7e0"/>
<rect x="744" y="503" width="17" height="1" fill="#99c7e0"/>
<rect x="744" y="504" width="17" height="1" fill="#9ac8e0"/>
<rect x="744" y="505" width="17" height="1" fill="#9ac8e0"/>
<rect x="744" y="506" width="17" height="1" fill="#9cc9e1"/>
<rect x="744" y="507" width="17" height="1" fill="#9cc9e1"/>
<rect x="744" y="508" width="17" height="1" fill="#9dcae1"/>
<rect x="744" y="509" width="17" height="1" fill="#9dcae1"/>
<rect x="744" y="510" width="17" height="1" fill="#9dcae1"/>
<rect x="744" y="511" width="17" height="1" fill="#9fcae1"/>
<rect x="744" y="512" width="17" height="1" fill="#9fcae1"/>
<rect x="744" y="513" width="17" height="1" fill="#a0cbe2"/>
<rect x="744" y="514" width="17" height="1" fill="#a0cbe2"/>
<rect x="744" y="515" width="17" height="1" fill="#a1cbe2"/>
<rect x="744" y="516" width="17" height="1" fill="#a1cbe2"/>
<rect x="744" y="517" width="17" height="1" fill="#a3cce3"/>
<rect x="744" y="518" width="17" height="1" fill="#a3cce3"/>
<rect x="744" y="519" width="17" height="1" fill="#a4cce3"/>
<rect x="744" y="520" width="17" height="1" fill="#a4cce3"/>
<rect x="744" y="521" width="17" height="1" fill="#a5cde3"/>
<rect x="744" y="522" width="17" height="1" fill="#a5cde3"/>
<rect x="744" y="523" width="17" height="1" fill="#a5cde3"/>
<rect x="744" y="524" width="17" height="1" fill="#a6cee4"/>
<rect x="744" y="525" width="17" height="1" fill="#a6cee4"/>
<rect x="744" y="526" width="17" height="1" fill="#a8cee4"/>
<rect x="744" y="527" width="17" height="1" fill="#a8cee4"/>
<rect x="744" y="528" width="17" height="1" fill="#a9cfe5"/>
<rect x="744" y="529" width="17" height="1" fill="#a9cfe5"/>
<rect x="744" y="530" width="17" height="1" fill="#aacfe5"/>
<rect x="744" y="531" width="17" height="1" fill="#aacfe5"/>
<rect x="744" y="532" width="17" height="1" fill="#abd0e6"/>
<rect x="744" y="533" width="17" height="1" fill="#abd0e6"/>
<rect x="744" y="534" width="17" height="1" fill="#abd0e6"/>
<rect x="744" y="535" width="17" height="1" fill="#add0e6"/>
<rect x="744" y="536" width="17" height="1" fill="#add0e6"/>
<rect x="744" y="537" width="17" height="1" fill="#aed1e7"/>
<rect x="744" y="538" width="17" height="1" fill="#aed1e7"/>
<rect x="744" y="539" width="17" height="1" fill="#afd1e7"/>
<rect x="744" y="540" width="17" height="1" fill="#afd1e7"/>
<rect x="744" y="541" width="17" height="1" fill="#b0d2e7"/>
<rect x="744" y="542" width="17" height="1" fill="#b0d2e7"/>
<rect x="744" y="543" width="17" height="1" fill="#b2d2e8"/>
<rect x="744" y="544" width="17" height="1" fill="#b2d2e8"/>
<rect x="744" y="545" width="17" height="1" fill="#b2d2e8"/>
<rect x="744" y="546" width="17" height="1" fill="#b3d3e8"/>
<rect x="744" y="547" width="17" height="1" fill="#b3d3e8"/>
<rect x="744" y="548" width="17" height="1" fill="#b4d3e9"/>
<rect x="744" y="549" width="17" height="1" fill="#b4d3e9"/>
<rect x="744" y="550" width="17" height="1" fill="#b5d4e9"/>
<rect x="744" y="551" width="17" height="1" fill="#b5d4e9"/>
<rect x="744" y="552" width="17" height="1" fill="#b7d4ea"/>
<rect x="744" y="553" width="17" height="1" fill="#b7d4ea"/>
<rect x="744" y="554" width="17" height="1" fill="#b8d5ea"/>
<rect x="744" y="555" width="17" height="1" fill="#b8d5ea"/>
<rect x="744" y="556" width="17" height="1" fill="#b9d6ea"/>
<rect x="744" y="557" width="17" height="1" fill="#b9d6ea"/>
<rect x="744" y="558" width="17" height="1" fill="#b9d6ea"/>
<rect x="744" y="559" width="17" height="1" fill="#bad6eb"/>
<rect x="744" y="560" width="17" height="1" fill="#bad6eb"/>
<rect x="744" y="561" width="17" height="1" fill="#bcd7eb"/>
<rect x="744" y="562" width="17" height="1" fill="#bcd7eb"/>
<rect x="744" y="563" width="17" height="1" fill="#bdd7ec"/>
<rect x="744" y="564" width="17" height="1" fill="#bdd7ec"/>
<rect x="744" y="565" width="17" height="1" fill="#bed8ec"/>
<rect x="744" y="566" width="17" height="1" fill="#bed8ec"/>
<rect x="744" y="567" width="17" height="1" fill="#bfd8ed"/>
<rect x="744" y="568" width="17" height="1" fill="#bfd8ed"/>
<rect x="744" y="569" width="17" height="1" fill="#bfd8ed"/>
<rect x="744" y="570" width="17" height="1" fill="#c1d9ed"/>
<rect x="744" y="571" width="17" height="1" fill="#c1d9ed"/>
<rect x="744" y="572" width="17" height="1" fill="#c2d9ee"/>
<rect x="744" y="573" width="17" height="1" fill="#c2d9ee"/>
<rect x="744" y="574" width="17" height="1" fill="#c3daee"/>
<rect x="744" y="575" width="17" height="1" fill="#c3daee"/>
<rect x="744" y="576" width="17" height="1" fill="#c4daee"/>
<rect x="744" y="577" width="17" height="1" fill="#c4daee"/>
<rect x="744" y="578" width="17" height="1" fill="#c6dbef"/>
<rect x="744" y="579" width="17" height="1" fill="#c6dbef"/>
<rect x="744" y="580" width="17" height="1" fill="#c6dbef"/>
<rect x="744" y="581" width="17" height="1" fill="#c7dbef"/>
<rect x="744" y="582" width="17" height="1" fill="#c7dbef"/>
<rect x="744" y="583" width="17" height="1" fill="#c7dcef"/>
<rect x="744" y="584" width="17" height="1" fill="#c7dcef"/>
<rect x="744" y="585" width="17" height="1" fill="#c8dcf0"/>
<rect x="744" y="586" width="17" height="1" fill="#c8dcf0"/>
<rect x="744" y="587" width="17" height="1" fill="#c9ddf0"/>
<rect x="744" y="588" width="17" height="1" fill="#c9ddf0"/>
<rect x="744" y="589" width="17" height="1" fill="#caddf0"/>
<rect x="744" y="590" width="17" height="1" fill="#caddf0"/>
<rect x="744" y="591" width="17" height="1" fill="#cadef0"/>
<rect x="744" y="592" width="17" height="1" fill="#cadef0"/>
<rect x="744" y="593" width="17" height="1" fill="#cadef0"/>
<rect x="744" y="594" width="17" height="1" fill="#cbdef1"/>
<rect x="744" y="595" width="17" height="1" fill="#cbdef1"/>
<rect x="744" y="596" width="17" height="1" fill="#ccdff1"/>
<rect x="744" y="597" width="17" height="1" fill="#ccdff1"/>
<rect x="744" y="598" width="17" height="1" fill="#cddff1"/>
<rect x="744" y="599" width="17" height="1" fill="#cddff1"/>
<rect x="744" y="600" width="17" height="1" fill="#cde0f1"/>
<rect x="744" y="601" width="17" height="1" fill="#cde0f1"/>
<rect x="744" y="602" width="17" height="1" fill="#cee0f2"/>
<rect x="744" y="603" width="17" height="1" fill="#cee0f2"/>
<rect x="744" y="604" width="17" height="1" fill="#cee0f2"/>
<rect x="744" y="605" width="17" height="1" fill="#cfe1f2"/>
<rect x="744" y="606" width="17" height="1" fill="#cfe1f2"/>
<rect x="744" y="607" width="17" height="1" fill="#d0e1f2"/>
<rect x="744" y="608" width="17" height="1" fill="#d0e1f2"/>
<rect x="744" y="609" width="17" height="1" fill="#d0e2f2"/>
<rect x="744" y="610" width="17" height="1" fill="#d0e2f2"/>
<rect x="744" y="611" width="17" height="1" fill="#d1e2f3"/>
<rect x="744" y="612" width="17" height="1" fill="#d1e2f3"/>
<rect x="744" y="613" width="17" height="1" fill="#d2e3f3"/>
<rect x="744" y="614" width="17" height="1" fill="#d2e3f3"/>
<rect x="744" y="615" width="17" height="1" fill="#d2e3f3"/>
<rect x="744" y="616" width="17" height="1" fill="#d3e3f3"/>
<rect x="744" y="617" width="17" height="1" fill="#d3e3f3"/>
<rect x="744" y="618" width="17" height="1" fill="#d3e4f3"/>
<rect x="744" y="619" width="17" height="1" fill="#d3e4f3"/>
<rect x="744" y="620" width="17" height="1" fill="#d4e4f4"/>
<rect x="744" y="621" width="17" height="1" fill="#d4e4f4"/>
<rect x="744" y="622" width="17" height="1" fill="#d5e5f4"/>
<rect x="744" y="623" width="17" height="1" fill="#d5e5f4"/>
<rect x="744" y="624" width="17" height="1" fill="#d6e5f4"/>
<rect x="744" y="625" width="17" height="1" fill="#d6e5f4"/>
<rect x="744" y="626" width="17" height="1" fill="#d6e6f4"/>
<rect x="744" y="627" width="17" height="1" fill="#d6e6f4"/>
<rect x="744" y="628" width="17" height="1" fill="#d6e6f4"/>
<rect x="744" y="629" width="17" height="1" fill="#d7e6f5"/>
<rect x="744" y="630" width="17" height="1" fill="#d7e6f5"/>
<rect x="744" y="631" width="17" height="1" fill="#d8e7f5"/>
<rect x="744" y="632" width="17" height="1" fill="#d8e7f5"/>
<rect x="744" y="633" width="17" height="1" fill="#d9e7f5"/>
<rect x="744" y="634" width="17" height="1" fill="#d9e7f5"/>
<rect x="744" y="635" width="17" height="1" fill="#d9e8f5"/>
<rect x="744" y="636" width="17" height="1" fill="#d9e8f5"/>
<rect x="744" y="637" width="17" height="1" fill="#dae8f6"/>
<rect x="744" y="638" width="17" height="1" fill="#dae8f6"/>
<rect x="744" y="639" width="17" height="1" fill="#dae8f6"/>
<rect x="744" y="640" width="17" height="1" fill="#dbe9f6"/>
<rect x="744" y="641" width="17" height="1" fill="#dbe9f6"/>
<rect x="744" y="642" width="17" height="1" fill="#dce9f6"/>
<rect x="744" y="643" width="17" height="1" fill="#dce9f6"/>
<rect x="744" y="644" width="17" height="1" fill="#dceaf6"/>
<rect x="744" y="645" width="17" height="1" fill="#dceaf6"/>
<rect x="744" y="646" width="17" height="1" fill="#ddeaf7"/>
<rect x="744" y="647" width="17" height="1" fill="#ddeaf7"/>
<rect x="744" y="648" width="17" height="1" fill="#deebf7"/>
<rect x="744" y="649" width="17" height="1" fill="#deebf7"/>
<rect x="744" y="650" width="17" height="1" fill="#deebf7"/>
<rect x="744" y="651" width="17" height="1" fill="#dfebf7"/>
<rect x="744" y="652" width="17" height="1" fill="#dfebf7"/>
<rect x="744" y="653" width="17" height="1" fill="#dfecf7"/>
<rect x="744" y="654" width="17" height="1" fill="#dfecf7"/>
<rect x="744" y="655" width="17" height="1" fill="#e0ecf8"/>
<rect x="744" y="656" width="17" height="1" fill="#e0ecf8"/>
<rect x="744" y="657" width="17" height="1" fill="#e1edf8"/>
<rect x="744" y="658" width="17" height="1" fill="#e1edf8"/>
<rect x="744" y="659" width="17" height="1" fill="#e2edf8"/>
<rect x="744" y="660" width="17" height="1" fill="#e2edf8"/>
<rect x="744" y="661" width="17" height="1" fill="#e3eef8"/>
<rect x="744" y="662" width="17" height="1" fill="#e3eef8"/>
<rect x="744" y="663" width="17" height="1" fill="#e3eef8"/>
<rect x="744" y="664" width="17" height="1" fill="#e3eef9"/>
<rect x="744" y="665" width="17" height="1" fill="#e3eef9"/>
<rect x="744" y="666" width="17" height="1" fill="#e4eff9"/>
<rect x="744" y="667" width="17" height="1" fill="#e4eff9"/>
<rect x="744" y="668" width="17" height="1" fill="#e5eff9"/>
<rect x="744" y="669" width="17" height="1" fill="#e5eff9"/>
<rect x="744" y="670" width="17" height="1" fill="#e6f0f9"/>
<rect x="744" y="671" width="17" height="1" fill="#e6f0f9"/>
<rect x="744" y="672" width="17" height="1" fill="#e7f0fa"/>
<rect x="744" y="673" width="17" height="1" fill="#e7f0fa"/>
<rect x="744" y="674" width="17" height="1" fill="#e7f0fa"/>
<rect x="744" y="675" width="17" height="1" fill="#e7f1fa"/>
<rect x="744" y="676" width="17" height="1" fill="#e7f1fa"/>
<rect x="744" y="677" width="17" height="1" fill="#e8f1fa"/>
<rect x="744" y="678" width="17" height="1" fill="#e8f1fa"/>
<rect x="744" y="679" width="17" height="1" fill="#e9f2fa"/>
<rect x="744" y="680" width="17" height="1" fill="#e9f2fa"/>
<rect x="744" y="681" width="17" height="1" fill="#eaf2fb"/>
<rect x="744" y="682" width="17" height="1" fill="#eaf2fb"/>
<rect x="744" y="683" width="17" height="1" fill="#eaf3fb"/>
<rect x="744" y="684" width="17" height="1" fill="#eaf3fb"/>
<rect x="744" y="685" width="17" height="1" fill="#eaf3fb"/>
<rect x="744" y="686" width="17" height="1" fill="#ebf3fb"/>
<rect x="744" y="687" width="17" height="1" fill="#ebf3fb"/>
<rect x="744" y="688" width="17" height="1" fill="#ecf4fb"/>
<rect x="744" y="689" width="17" height="1" fill="#ecf4fb"/>
<rect x="744" y="690" width="17" height="1" fill="#edf4fc"/>
<rect x="744" y="691" width="17" height="1" fill="#edf4fc"/>
<rect x="744" y="692" width="17" height="1" fill="#eef5fc"/>
<rect x="744" y="693" width="17" height="1" fill="#eef5fc"/>
<rect x="744" y="694" width="17" height="1" fill="#eef5fc"/>
<rect x="744" y="695" width="17" height="1" fill="#eef5fc"/>
<rect x="744" y="696" width="17" height="1" fill="#eff6fc"/>
<rect x="744" y="697" width="17" height="1" fill="#eff6fc"/>
<rect x="744" y="698" width="17" height="1" fill="#eff6fc"/>
<rect x="744" y="699" width="17" height="1" fill="#f0f6fd"/>
<rect x="744" y="700" width="17" height="1" fill="#f0f6fd"/>
<rect x="744" y="701" width="17" height="1" fill="#f1f7fd"/>
<rect x="744" y="702" width="17" height="1" fill="#f1f7fd"/>
<rect x="744" y="703" width="17" height="1" fill="#f2f7fd"/>
<rect x="744" y="704" width="17" height="1" fill="#f2f7fd"/>
<rect x="744" y="705" width="17" height="1" fill="#f2f8fd"/>
<rect x="744" y="706" width="17" height="1" fill="#f2f8fd"/>
<rect x="744" y="707" width="17" height="1" fill="#f3f8fe"/>
<rect x="744" y="708" width="17" height="1" fill="#f3f8fe"/>
<rect x="744" y="709" width="17" height="1" fill="#f3f8fe"/>
<rect x="744" y="710" width="17" height="1" fill="#f4f9fe"/>
<rect x="744" y="711" width="17" height="1" fill="#f4f9fe"/>
<rect x="744" y="712" width="17" height="1" fill="#f5f9fe"/>
<rect x="744" y="713" width="17" height="1" fill="#f5f9fe"/>
<rect x="744" y="714" width="17" height="1" fill="#f5fafe"/>
<rect x="744" y="715" width="17" height="1" fill="#f5fafe"/>
<rect x="744" y="716" width="17" height="1" fill="#f6faff"/>
<rect x="744" y="717" width="17" height="1" fill="#f6faff"/>
<rect x="744" y="718" width="17" height="1" fill="#f7fbff"/>
<rect x="744" y="719" width="17" height="1" fill="#f7fbff"/>
<rect x="744" y="720" width="17" height="1" fill="#f7fbff"/>
</g>
<g stroke="#000" stroke-width="0.8" fill="none"><path d="M161 111.5h5.5 M720 111.5h-5.5"/><path d="M161 86.5h5.5 M720 86.5h-5.5"/><path d="M161 61.5h5.5 M720 61.5h-5.5"/><path d="M161 36.5h5.5 M720 36.5h-5.5"/><path d="M161 10.5h5.5 M720 10.5h-5.5"/><path d="M760 720.5h-5.5"/><path d="M760 655.5h-5.5"/><path d="M760 590.5h-5.5"/><path d="M760 525.5h-5.5"/><path d="M760 459.5h-5.5"/><path d="M760 394.5h-5.5"/><path d="M760 329.5h-5.5"/><path d="M760 264.5h-5.5"/><path d="M760 199.5h-5.5"/></g>
<g opacity="0.99">
<text x="153.50" y="142.30" font-size="16.00" text-anchor="end" transform="translate(153.50 0) scale(1.1300 1) translate(-153.50 0)">0.00</text>
<text x="153.50" y="116.30" font-size="16.00" text-anchor="end" transform="translate(153.50 0) scale(1.1300 1) translate(-153.50 0)">0.05</text>
<text x="153.50" y="91.30" font-size="16.00" text-anchor="end" transform="translate(153.50 0) scale(1.1300 1) translate(-153.50 0)">0.10</text>
<text x="153.50" y="66.30" font-size="16.00" text-anchor="end" transform="translate(153.50 0) scale(1.1300 1) translate(-153.50 0)">0.15</text>
<text x="153.50" y="41.30" font-size="16.00" text-anchor="end" transform="translate(153.50 0) scale(1.1300 1) translate(-153.50 0)">0.20</text>
<text x="153.50" y="16.30" font-size="16.00" text-anchor="end" transform="translate(153.50 0) scale(1.1300 1) translate(-153.50 0)">0.25</text>
<text x="764.50" y="726.30" font-size="16.00" text-anchor="start" transform="translate(764.50 0) scale(1.1300 1) translate(-764.50 0)">0.00</text>
<text x="764.50" y="660.30" font-size="16.00" text-anchor="start" transform="translate(764.50 0) scale(1.1300 1) translate(-764.50 0)">0.03</text>
<text x="764.50" y="595.50" font-size="16.00" text-anchor="start" transform="translate(764.50 0) scale(1.1300 1) translate(-764.50 0)">0.06</text>
<text x="764.50" y="530.30" font-size="16.00" text-anchor="start" transform="translate(764.50 0) scale(1.1300 1) translate(-764.50 0)">0.09</text>
<text x="764.50" y="465.50" font-size="16.00" text-anchor="start" transform="translate(764.50 0) scale(1.1300 1) translate(-764.50 0)">0.12</text>
<text x="764.50" y="400.30" font-size="16.00" text-anchor="start" transform="translate(764.50 0) scale(1.1300 1) translate(-764.50 0)">0.15</text>
<text x="764.50" y="335.50" font-size="16.00" text-anchor="start" transform="translate(764.50 0) scale(1.1300 1) translate(-764.50 0)">0.18</text>
<text x="764.50" y="269.30" font-size="16.00" text-anchor="start" transform="translate(764.50 0) scale(1.1300 1) translate(-764.50 0)">0.21</text>
<text x="764.50" y="204.30" font-size="16.00" text-anchor="start" transform="translate(764.50 0) scale(1.1300 1) translate(-764.50 0)">0.24</text>
</g>
<g fill="none" stroke-width="1.39" stroke-linejoin="miter" stroke-linecap="butt">
<path stroke="#008000" d="M185.45 136.30V112.60H202.42V136.30"/>
<path stroke="#008000" d="M168.48 136.30V99.20H193.94V112.60"/>
<path stroke="#008000" d="M270.30 136.30V126.80H287.27V136.30"/>
<path stroke="#008000" d="M253.33 136.30V119.80H278.79V126.80"/>
<path stroke="#008000" d="M236.36 136.30V117.60H266.06V119.80"/>
<path stroke="#008000" d="M304.24 136.30V126.80H321.21V136.30"/>
<path stroke="#008000" d="M338.18 136.30V119.60H355.15V136.30"/>
<path stroke="#008000" d="M312.73 126.80V113.20H346.67V119.60"/>
<path stroke="#008000" d="M251.21 117.60V112.40H329.70V113.20"/>
<path stroke="#008000" d="M372.12 136.30V126.80H389.09V136.30"/>
<path stroke="#008000" d="M406.06 136.30V126.80H423.03V136.30"/>
<path stroke="#008000" d="M440.00 136.30V118.00H456.97V136.30"/>
<path stroke="#008000" d="M414.55 126.80V106.80H448.48V118.00"/>
<path stroke="#008000" d="M380.61 126.80V104.40H431.52V106.80"/>
<path stroke="#008000" d="M290.45 112.40V95.60H406.06V104.40"/>
<path stroke="#008000" d="M219.39 136.30V90.80H348.26V95.60"/>
<path stroke="#008000" d="M507.88 136.30V126.80H524.85V136.30"/>
<path stroke="#008000" d="M490.91 136.30V116.30H516.36V126.80"/>
<path stroke="#008000" d="M473.94 136.30V109.60H503.64V116.30"/>
<path stroke="#008000" d="M558.79 136.30V119.80H575.76V136.30"/>
<path stroke="#008000" d="M609.70 136.30V121.80H626.67V136.30"/>
<path stroke="#008000" d="M592.73 136.30V113.20H618.18V121.80"/>
<path stroke="#008000" d="M567.27 119.80V100.80H605.45V113.20"/>
<path stroke="#008000" d="M541.82 136.30V89.20H586.36V100.80"/>
<path stroke="#008000" d="M488.79 109.60V84.80H564.09V89.20"/>
<path stroke="#008000" d="M283.83 90.80V66.00H526.44V84.80"/>
<path stroke="#008000" d="M181.21 99.20V58.00H405.13V66.00"/>
<path stroke="#ff0000" d="M643.64 136.30V122.40H660.61V136.30"/>
<path stroke="#ff0000" d="M694.55 136.30V122.80H711.52V136.30"/>
<path stroke="#ff0000" d="M677.58 136.30V76.60H703.03V122.80"/>
<path stroke="#ff0000" d="M652.12 122.40V55.40H690.30V76.60"/>
<path stroke="#0000ff" d="M293.17 58.00V6.30H671.21V55.40"/>
<path stroke="#008000" d="M136.50 694.55H122.56V677.58H136.50"/>
<path stroke="#008000" d="M136.50 711.52H114.69V686.06H122.56"/>
<path stroke="#008000" d="M136.50 609.70H130.91V592.73H136.50"/>
<path stroke="#008000" d="M136.50 626.67H126.80V601.21H130.91"/>
<path stroke="#008000" d="M136.50 643.64H125.50V613.94H126.80"/>
<path stroke="#008000" d="M136.50 575.76H130.91V558.79H136.50"/>
<path stroke="#008000" d="M136.50 541.82H126.68V524.85H136.50"/>
<path stroke="#008000" d="M130.91 567.27H122.92V533.33H126.68"/>
<path stroke="#008000" d="M125.50 628.79H122.45V550.30H122.92"/>
<path stroke="#008000" d="M136.50 507.88H130.91V490.91H136.50"/>
<path stroke="#008000" d="M136.50 473.94H130.91V456.97H136.50"/>
<path stroke="#008000" d="M136.50 440.00H125.74V423.03H136.50"/>
<path stroke="#008000" d="M130.91 465.45H119.15V431.52H125.74"/>
<path stroke="#008000" d="M130.91 499.39H117.74V448.48H119.15"/>
<path stroke="#008000" d="M122.45 589.55H112.57V473.94H117.74"/>
<path stroke="#008000" d="M136.50 660.61H109.75V531.74H112.57"/>
<path stroke="#008000" d="M136.50 372.12H130.91V355.15H136.50"/>
<path stroke="#008000" d="M136.50 389.09H124.74V363.64H130.91"/>
<path stroke="#008000" d="M136.50 406.06H120.80V376.36H124.74"/>
<path stroke="#008000" d="M136.50 321.21H126.80V304.24H136.50"/>
<path stroke="#008000" d="M136.50 270.30H127.97V253.33H136.50"/>
<path stroke="#008000" d="M136.50 287.27H122.92V261.82H127.97"/>
<path stroke="#008000" d="M126.80 312.73H115.63V274.55H122.92"/>
<path stroke="#008000" d="M136.50 338.18H108.81V293.64H115.63"/>
<path stroke="#008000" d="M120.80 391.21H106.22V315.91H108.81"/>
<path stroke="#008000" d="M109.75 596.17H95.16V353.56H106.22"/>
<path stroke="#008000" d="M114.69 698.79H90.46V474.87H95.16"/>
<path stroke="#ff0000" d="M136.50 236.36H128.33V219.39H136.50"/>
<path stroke="#ff0000" d="M136.50 185.45H128.56V168.48H136.50"/>
<path stroke="#ff0000" d="M136.50 202.42H101.40V176.97H128.56"/>
<path stroke="#ff0000" d="M128.33 227.88H88.93V189.70H101.40"/>
<path stroke="#0000ff" d="M90.46 586.83H60.06V208.79H88.93"/>
</g>
<g fill="none" stroke="#000" stroke-width="1.39"><rect x="160.5" y="160.5" width="560.0" height="560.0"/></g>
<g fill="none" stroke="#000" stroke-width="1.39"><rect x="744.5" y="160.5" width="16.0" height="560.0"/></g>
<g fill="none" stroke="#000" stroke-width="1.39"><rect x="56.5" y="160.5" width="80.0" height="560.0"/></g>
<g fill="none" stroke="#000" stroke-width="1.39"><rect x="160.5" y="0.5" width="560.0" height="136.0"/></g>
</svg></body></html>
